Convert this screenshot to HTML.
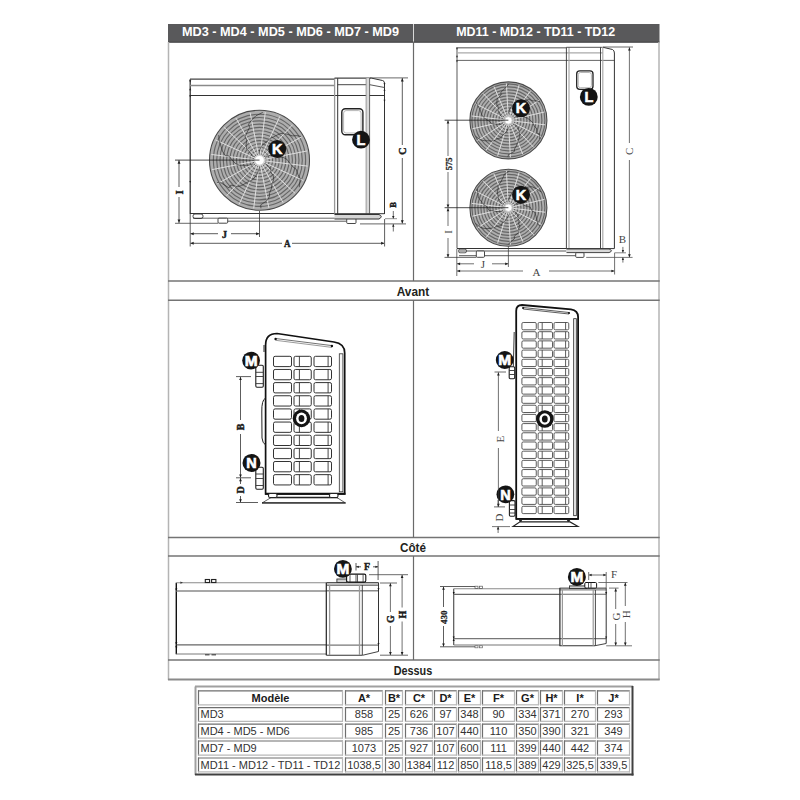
<!DOCTYPE html>
<html><head><meta charset="utf-8"><style>
html,body{margin:0;padding:0;background:#fff;width:800px;height:800px;overflow:hidden}
svg{display:block}
</style></head><body>
<svg width="800" height="800" viewBox="0 0 800 800">
<rect x="168" y="24" width="491.5" height="18.6" fill="#59595b" stroke="none" stroke-width="1" rx="0" />
<line x1="168" y1="42.1" x2="659.5" y2="42.1" stroke="#454547" stroke-width="1" />
<line x1="413.5" y1="24" x2="413.5" y2="41.6" stroke="#d8d8d8" stroke-width="1" />
<text x="290.5" y="36.4" font-family="Liberation Sans" font-size="12.5" font-weight="bold" fill="#ffffff" text-anchor="middle" textLength="217" lengthAdjust="spacingAndGlyphs" >MD3 - MD4 - MD5 - MD6 - MD7 - MD9</text>
<text x="535.7" y="36.4" font-family="Liberation Sans" font-size="12.5" font-weight="bold" fill="#ffffff" text-anchor="middle" textLength="159" lengthAdjust="spacingAndGlyphs" >MD11 - MD12 - TD11 - TD12</text>
<line x1="168.5" y1="42" x2="168.5" y2="680" stroke="#b4b4b4" stroke-width="1.5" />
<line x1="659" y1="42" x2="659" y2="680" stroke="#b4b4b4" stroke-width="1.5" />
<line x1="168" y1="281" x2="659.7" y2="281" stroke="#747474" stroke-width="1.5" />
<line x1="168" y1="300.2" x2="659.7" y2="300.2" stroke="#747474" stroke-width="1.5" />
<line x1="168" y1="537.6" x2="659.7" y2="537.6" stroke="#747474" stroke-width="1.5" />
<line x1="168" y1="556" x2="659.7" y2="556" stroke="#747474" stroke-width="1.5" />
<line x1="168" y1="660" x2="659.7" y2="660" stroke="#747474" stroke-width="1.5" />
<line x1="168" y1="679.6" x2="659.7" y2="679.6" stroke="#8a8a8a" stroke-width="2" />
<line x1="413.5" y1="42" x2="413.5" y2="281" stroke="#6a6a6a" stroke-width="1.2" />
<line x1="413.5" y1="300.2" x2="413.5" y2="537.6" stroke="#6a6a6a" stroke-width="1.2" />
<line x1="413.5" y1="556" x2="413.5" y2="660" stroke="#6a6a6a" stroke-width="1.2" />
<text x="413" y="295.5" font-family="Liberation Sans" font-size="12" font-weight="bold" fill="#231f20" text-anchor="middle" textLength="32.5" lengthAdjust="spacingAndGlyphs" >Avant</text>
<text x="413" y="552" font-family="Liberation Sans" font-size="12" font-weight="bold" fill="#231f20" text-anchor="middle" textLength="26" lengthAdjust="spacingAndGlyphs" >Côté</text>
<text x="413" y="674.5" font-family="Liberation Sans" font-size="12" font-weight="bold" fill="#231f20" text-anchor="middle" textLength="38.5" lengthAdjust="spacingAndGlyphs" >Dessus</text>
<g>
<line x1="195" y1="686.5" x2="633" y2="686.5" stroke="#a0a0a0" stroke-width="2" />
<line x1="195.5" y1="686.5" x2="195.5" y2="775" stroke="#a0a0a0" stroke-width="2" />
<line x1="195" y1="774.5" x2="633.5" y2="774.5" stroke="#404040" stroke-width="2" />
<line x1="632.5" y1="686" x2="632.5" y2="775.5" stroke="#404040" stroke-width="2" />
<line x1="198" y1="690.8" x2="343" y2="690.8" stroke="#6e6e6e" stroke-width="1.2" />
<line x1="198.5" y1="690.3" x2="198.5" y2="705.3" stroke="#6e6e6e" stroke-width="1.2" />
<line x1="198" y1="704.8" x2="343" y2="704.8" stroke="#b8b8b8" stroke-width="1.2" />
<line x1="342.5" y1="690.3" x2="342.5" y2="705.3" stroke="#b8b8b8" stroke-width="1.2" />
<text x="270.5" y="701.5" font-family="Liberation Sans" font-size="11" font-weight="bold" fill="#1a1a1a" text-anchor="middle" >Modèle</text>
<line x1="345" y1="690.8" x2="383" y2="690.8" stroke="#6e6e6e" stroke-width="1.2" />
<line x1="345.5" y1="690.3" x2="345.5" y2="705.3" stroke="#6e6e6e" stroke-width="1.2" />
<line x1="345" y1="704.8" x2="383" y2="704.8" stroke="#b8b8b8" stroke-width="1.2" />
<line x1="382.5" y1="690.3" x2="382.5" y2="705.3" stroke="#b8b8b8" stroke-width="1.2" />
<text x="364.0" y="701.5" font-family="Liberation Sans" font-size="11" font-weight="bold" fill="#1a1a1a" text-anchor="middle" >A*</text>
<line x1="385" y1="690.8" x2="403" y2="690.8" stroke="#6e6e6e" stroke-width="1.2" />
<line x1="385.5" y1="690.3" x2="385.5" y2="705.3" stroke="#6e6e6e" stroke-width="1.2" />
<line x1="385" y1="704.8" x2="403" y2="704.8" stroke="#b8b8b8" stroke-width="1.2" />
<line x1="402.5" y1="690.3" x2="402.5" y2="705.3" stroke="#b8b8b8" stroke-width="1.2" />
<text x="394.0" y="701.5" font-family="Liberation Sans" font-size="11" font-weight="bold" fill="#1a1a1a" text-anchor="middle" >B*</text>
<line x1="405" y1="690.8" x2="433" y2="690.8" stroke="#6e6e6e" stroke-width="1.2" />
<line x1="405.5" y1="690.3" x2="405.5" y2="705.3" stroke="#6e6e6e" stroke-width="1.2" />
<line x1="405" y1="704.8" x2="433" y2="704.8" stroke="#b8b8b8" stroke-width="1.2" />
<line x1="432.5" y1="690.3" x2="432.5" y2="705.3" stroke="#b8b8b8" stroke-width="1.2" />
<text x="419.0" y="701.5" font-family="Liberation Sans" font-size="11" font-weight="bold" fill="#1a1a1a" text-anchor="middle" >C*</text>
<line x1="434" y1="690.8" x2="457" y2="690.8" stroke="#6e6e6e" stroke-width="1.2" />
<line x1="434.5" y1="690.3" x2="434.5" y2="705.3" stroke="#6e6e6e" stroke-width="1.2" />
<line x1="434" y1="704.8" x2="457" y2="704.8" stroke="#b8b8b8" stroke-width="1.2" />
<line x1="456.5" y1="690.3" x2="456.5" y2="705.3" stroke="#b8b8b8" stroke-width="1.2" />
<text x="445.5" y="701.5" font-family="Liberation Sans" font-size="11" font-weight="bold" fill="#1a1a1a" text-anchor="middle" >D*</text>
<line x1="458" y1="690.8" x2="481" y2="690.8" stroke="#6e6e6e" stroke-width="1.2" />
<line x1="458.5" y1="690.3" x2="458.5" y2="705.3" stroke="#6e6e6e" stroke-width="1.2" />
<line x1="458" y1="704.8" x2="481" y2="704.8" stroke="#b8b8b8" stroke-width="1.2" />
<line x1="480.5" y1="690.3" x2="480.5" y2="705.3" stroke="#b8b8b8" stroke-width="1.2" />
<text x="469.5" y="701.5" font-family="Liberation Sans" font-size="11" font-weight="bold" fill="#1a1a1a" text-anchor="middle" >E*</text>
<line x1="482" y1="690.8" x2="515" y2="690.8" stroke="#6e6e6e" stroke-width="1.2" />
<line x1="482.5" y1="690.3" x2="482.5" y2="705.3" stroke="#6e6e6e" stroke-width="1.2" />
<line x1="482" y1="704.8" x2="515" y2="704.8" stroke="#b8b8b8" stroke-width="1.2" />
<line x1="514.5" y1="690.3" x2="514.5" y2="705.3" stroke="#b8b8b8" stroke-width="1.2" />
<text x="498.5" y="701.5" font-family="Liberation Sans" font-size="11" font-weight="bold" fill="#1a1a1a" text-anchor="middle" >F*</text>
<line x1="516" y1="690.8" x2="539" y2="690.8" stroke="#6e6e6e" stroke-width="1.2" />
<line x1="516.5" y1="690.3" x2="516.5" y2="705.3" stroke="#6e6e6e" stroke-width="1.2" />
<line x1="516" y1="704.8" x2="539" y2="704.8" stroke="#b8b8b8" stroke-width="1.2" />
<line x1="538.5" y1="690.3" x2="538.5" y2="705.3" stroke="#b8b8b8" stroke-width="1.2" />
<text x="527.5" y="701.5" font-family="Liberation Sans" font-size="11" font-weight="bold" fill="#1a1a1a" text-anchor="middle" >G*</text>
<line x1="540" y1="690.8" x2="563" y2="690.8" stroke="#6e6e6e" stroke-width="1.2" />
<line x1="540.5" y1="690.3" x2="540.5" y2="705.3" stroke="#6e6e6e" stroke-width="1.2" />
<line x1="540" y1="704.8" x2="563" y2="704.8" stroke="#b8b8b8" stroke-width="1.2" />
<line x1="562.5" y1="690.3" x2="562.5" y2="705.3" stroke="#b8b8b8" stroke-width="1.2" />
<text x="551.5" y="701.5" font-family="Liberation Sans" font-size="11" font-weight="bold" fill="#1a1a1a" text-anchor="middle" >H*</text>
<line x1="564" y1="690.8" x2="596" y2="690.8" stroke="#6e6e6e" stroke-width="1.2" />
<line x1="564.5" y1="690.3" x2="564.5" y2="705.3" stroke="#6e6e6e" stroke-width="1.2" />
<line x1="564" y1="704.8" x2="596" y2="704.8" stroke="#b8b8b8" stroke-width="1.2" />
<line x1="595.5" y1="690.3" x2="595.5" y2="705.3" stroke="#b8b8b8" stroke-width="1.2" />
<text x="580.0" y="701.5" font-family="Liberation Sans" font-size="11" font-weight="bold" fill="#1a1a1a" text-anchor="middle" >I*</text>
<line x1="597" y1="690.8" x2="630" y2="690.8" stroke="#6e6e6e" stroke-width="1.2" />
<line x1="597.5" y1="690.3" x2="597.5" y2="705.3" stroke="#6e6e6e" stroke-width="1.2" />
<line x1="597" y1="704.8" x2="630" y2="704.8" stroke="#b8b8b8" stroke-width="1.2" />
<line x1="629.5" y1="690.3" x2="629.5" y2="705.3" stroke="#b8b8b8" stroke-width="1.2" />
<text x="613.5" y="701.5" font-family="Liberation Sans" font-size="11" font-weight="bold" fill="#1a1a1a" text-anchor="middle" >J*</text>
<line x1="198" y1="707.6" x2="343" y2="707.6" stroke="#6e6e6e" stroke-width="1.2" />
<line x1="198.5" y1="707.1" x2="198.5" y2="721.8" stroke="#6e6e6e" stroke-width="1.2" />
<line x1="198" y1="721.3" x2="343" y2="721.3" stroke="#b8b8b8" stroke-width="1.2" />
<line x1="342.5" y1="707.1" x2="342.5" y2="721.8" stroke="#b8b8b8" stroke-width="1.2" />
<text x="200.5" y="718.0" font-family="Liberation Sans" font-size="11" font-weight="normal" fill="#333" text-anchor="start" >MD3</text>
<line x1="345" y1="707.6" x2="383" y2="707.6" stroke="#6e6e6e" stroke-width="1.2" />
<line x1="345.5" y1="707.1" x2="345.5" y2="721.8" stroke="#6e6e6e" stroke-width="1.2" />
<line x1="345" y1="721.3" x2="383" y2="721.3" stroke="#b8b8b8" stroke-width="1.2" />
<line x1="382.5" y1="707.1" x2="382.5" y2="721.8" stroke="#b8b8b8" stroke-width="1.2" />
<text x="364.0" y="718.0" font-family="Liberation Sans" font-size="11" font-weight="normal" fill="#333" text-anchor="middle" >858</text>
<line x1="385" y1="707.6" x2="403" y2="707.6" stroke="#6e6e6e" stroke-width="1.2" />
<line x1="385.5" y1="707.1" x2="385.5" y2="721.8" stroke="#6e6e6e" stroke-width="1.2" />
<line x1="385" y1="721.3" x2="403" y2="721.3" stroke="#b8b8b8" stroke-width="1.2" />
<line x1="402.5" y1="707.1" x2="402.5" y2="721.8" stroke="#b8b8b8" stroke-width="1.2" />
<text x="394.0" y="718.0" font-family="Liberation Sans" font-size="11" font-weight="normal" fill="#333" text-anchor="middle" >25</text>
<line x1="405" y1="707.6" x2="433" y2="707.6" stroke="#6e6e6e" stroke-width="1.2" />
<line x1="405.5" y1="707.1" x2="405.5" y2="721.8" stroke="#6e6e6e" stroke-width="1.2" />
<line x1="405" y1="721.3" x2="433" y2="721.3" stroke="#b8b8b8" stroke-width="1.2" />
<line x1="432.5" y1="707.1" x2="432.5" y2="721.8" stroke="#b8b8b8" stroke-width="1.2" />
<text x="419.0" y="718.0" font-family="Liberation Sans" font-size="11" font-weight="normal" fill="#333" text-anchor="middle" >626</text>
<line x1="434" y1="707.6" x2="457" y2="707.6" stroke="#6e6e6e" stroke-width="1.2" />
<line x1="434.5" y1="707.1" x2="434.5" y2="721.8" stroke="#6e6e6e" stroke-width="1.2" />
<line x1="434" y1="721.3" x2="457" y2="721.3" stroke="#b8b8b8" stroke-width="1.2" />
<line x1="456.5" y1="707.1" x2="456.5" y2="721.8" stroke="#b8b8b8" stroke-width="1.2" />
<text x="445.5" y="718.0" font-family="Liberation Sans" font-size="11" font-weight="normal" fill="#333" text-anchor="middle" >97</text>
<line x1="458" y1="707.6" x2="481" y2="707.6" stroke="#6e6e6e" stroke-width="1.2" />
<line x1="458.5" y1="707.1" x2="458.5" y2="721.8" stroke="#6e6e6e" stroke-width="1.2" />
<line x1="458" y1="721.3" x2="481" y2="721.3" stroke="#b8b8b8" stroke-width="1.2" />
<line x1="480.5" y1="707.1" x2="480.5" y2="721.8" stroke="#b8b8b8" stroke-width="1.2" />
<text x="469.5" y="718.0" font-family="Liberation Sans" font-size="11" font-weight="normal" fill="#333" text-anchor="middle" >348</text>
<line x1="482" y1="707.6" x2="515" y2="707.6" stroke="#6e6e6e" stroke-width="1.2" />
<line x1="482.5" y1="707.1" x2="482.5" y2="721.8" stroke="#6e6e6e" stroke-width="1.2" />
<line x1="482" y1="721.3" x2="515" y2="721.3" stroke="#b8b8b8" stroke-width="1.2" />
<line x1="514.5" y1="707.1" x2="514.5" y2="721.8" stroke="#b8b8b8" stroke-width="1.2" />
<text x="498.5" y="718.0" font-family="Liberation Sans" font-size="11" font-weight="normal" fill="#333" text-anchor="middle" >90</text>
<line x1="516" y1="707.6" x2="539" y2="707.6" stroke="#6e6e6e" stroke-width="1.2" />
<line x1="516.5" y1="707.1" x2="516.5" y2="721.8" stroke="#6e6e6e" stroke-width="1.2" />
<line x1="516" y1="721.3" x2="539" y2="721.3" stroke="#b8b8b8" stroke-width="1.2" />
<line x1="538.5" y1="707.1" x2="538.5" y2="721.8" stroke="#b8b8b8" stroke-width="1.2" />
<text x="527.5" y="718.0" font-family="Liberation Sans" font-size="11" font-weight="normal" fill="#333" text-anchor="middle" >334</text>
<line x1="540" y1="707.6" x2="563" y2="707.6" stroke="#6e6e6e" stroke-width="1.2" />
<line x1="540.5" y1="707.1" x2="540.5" y2="721.8" stroke="#6e6e6e" stroke-width="1.2" />
<line x1="540" y1="721.3" x2="563" y2="721.3" stroke="#b8b8b8" stroke-width="1.2" />
<line x1="562.5" y1="707.1" x2="562.5" y2="721.8" stroke="#b8b8b8" stroke-width="1.2" />
<text x="551.5" y="718.0" font-family="Liberation Sans" font-size="11" font-weight="normal" fill="#333" text-anchor="middle" >371</text>
<line x1="564" y1="707.6" x2="596" y2="707.6" stroke="#6e6e6e" stroke-width="1.2" />
<line x1="564.5" y1="707.1" x2="564.5" y2="721.8" stroke="#6e6e6e" stroke-width="1.2" />
<line x1="564" y1="721.3" x2="596" y2="721.3" stroke="#b8b8b8" stroke-width="1.2" />
<line x1="595.5" y1="707.1" x2="595.5" y2="721.8" stroke="#b8b8b8" stroke-width="1.2" />
<text x="580.0" y="718.0" font-family="Liberation Sans" font-size="11" font-weight="normal" fill="#333" text-anchor="middle" >270</text>
<line x1="597" y1="707.6" x2="630" y2="707.6" stroke="#6e6e6e" stroke-width="1.2" />
<line x1="597.5" y1="707.1" x2="597.5" y2="721.8" stroke="#6e6e6e" stroke-width="1.2" />
<line x1="597" y1="721.3" x2="630" y2="721.3" stroke="#b8b8b8" stroke-width="1.2" />
<line x1="629.5" y1="707.1" x2="629.5" y2="721.8" stroke="#b8b8b8" stroke-width="1.2" />
<text x="613.5" y="718.0" font-family="Liberation Sans" font-size="11" font-weight="normal" fill="#333" text-anchor="middle" >293</text>
<line x1="198" y1="724.2" x2="343" y2="724.2" stroke="#6e6e6e" stroke-width="1.2" />
<line x1="198.5" y1="723.7" x2="198.5" y2="738.6" stroke="#6e6e6e" stroke-width="1.2" />
<line x1="198" y1="738.1" x2="343" y2="738.1" stroke="#b8b8b8" stroke-width="1.2" />
<line x1="342.5" y1="723.7" x2="342.5" y2="738.6" stroke="#b8b8b8" stroke-width="1.2" />
<text x="200.5" y="734.8000000000001" font-family="Liberation Sans" font-size="11" font-weight="normal" fill="#333" text-anchor="start" >MD4 - MD5 - MD6</text>
<line x1="345" y1="724.2" x2="383" y2="724.2" stroke="#6e6e6e" stroke-width="1.2" />
<line x1="345.5" y1="723.7" x2="345.5" y2="738.6" stroke="#6e6e6e" stroke-width="1.2" />
<line x1="345" y1="738.1" x2="383" y2="738.1" stroke="#b8b8b8" stroke-width="1.2" />
<line x1="382.5" y1="723.7" x2="382.5" y2="738.6" stroke="#b8b8b8" stroke-width="1.2" />
<text x="364.0" y="734.8000000000001" font-family="Liberation Sans" font-size="11" font-weight="normal" fill="#333" text-anchor="middle" >985</text>
<line x1="385" y1="724.2" x2="403" y2="724.2" stroke="#6e6e6e" stroke-width="1.2" />
<line x1="385.5" y1="723.7" x2="385.5" y2="738.6" stroke="#6e6e6e" stroke-width="1.2" />
<line x1="385" y1="738.1" x2="403" y2="738.1" stroke="#b8b8b8" stroke-width="1.2" />
<line x1="402.5" y1="723.7" x2="402.5" y2="738.6" stroke="#b8b8b8" stroke-width="1.2" />
<text x="394.0" y="734.8000000000001" font-family="Liberation Sans" font-size="11" font-weight="normal" fill="#333" text-anchor="middle" >25</text>
<line x1="405" y1="724.2" x2="433" y2="724.2" stroke="#6e6e6e" stroke-width="1.2" />
<line x1="405.5" y1="723.7" x2="405.5" y2="738.6" stroke="#6e6e6e" stroke-width="1.2" />
<line x1="405" y1="738.1" x2="433" y2="738.1" stroke="#b8b8b8" stroke-width="1.2" />
<line x1="432.5" y1="723.7" x2="432.5" y2="738.6" stroke="#b8b8b8" stroke-width="1.2" />
<text x="419.0" y="734.8000000000001" font-family="Liberation Sans" font-size="11" font-weight="normal" fill="#333" text-anchor="middle" >736</text>
<line x1="434" y1="724.2" x2="457" y2="724.2" stroke="#6e6e6e" stroke-width="1.2" />
<line x1="434.5" y1="723.7" x2="434.5" y2="738.6" stroke="#6e6e6e" stroke-width="1.2" />
<line x1="434" y1="738.1" x2="457" y2="738.1" stroke="#b8b8b8" stroke-width="1.2" />
<line x1="456.5" y1="723.7" x2="456.5" y2="738.6" stroke="#b8b8b8" stroke-width="1.2" />
<text x="445.5" y="734.8000000000001" font-family="Liberation Sans" font-size="11" font-weight="normal" fill="#333" text-anchor="middle" >107</text>
<line x1="458" y1="724.2" x2="481" y2="724.2" stroke="#6e6e6e" stroke-width="1.2" />
<line x1="458.5" y1="723.7" x2="458.5" y2="738.6" stroke="#6e6e6e" stroke-width="1.2" />
<line x1="458" y1="738.1" x2="481" y2="738.1" stroke="#b8b8b8" stroke-width="1.2" />
<line x1="480.5" y1="723.7" x2="480.5" y2="738.6" stroke="#b8b8b8" stroke-width="1.2" />
<text x="469.5" y="734.8000000000001" font-family="Liberation Sans" font-size="11" font-weight="normal" fill="#333" text-anchor="middle" >440</text>
<line x1="482" y1="724.2" x2="515" y2="724.2" stroke="#6e6e6e" stroke-width="1.2" />
<line x1="482.5" y1="723.7" x2="482.5" y2="738.6" stroke="#6e6e6e" stroke-width="1.2" />
<line x1="482" y1="738.1" x2="515" y2="738.1" stroke="#b8b8b8" stroke-width="1.2" />
<line x1="514.5" y1="723.7" x2="514.5" y2="738.6" stroke="#b8b8b8" stroke-width="1.2" />
<text x="498.5" y="734.8000000000001" font-family="Liberation Sans" font-size="11" font-weight="normal" fill="#333" text-anchor="middle" >110</text>
<line x1="516" y1="724.2" x2="539" y2="724.2" stroke="#6e6e6e" stroke-width="1.2" />
<line x1="516.5" y1="723.7" x2="516.5" y2="738.6" stroke="#6e6e6e" stroke-width="1.2" />
<line x1="516" y1="738.1" x2="539" y2="738.1" stroke="#b8b8b8" stroke-width="1.2" />
<line x1="538.5" y1="723.7" x2="538.5" y2="738.6" stroke="#b8b8b8" stroke-width="1.2" />
<text x="527.5" y="734.8000000000001" font-family="Liberation Sans" font-size="11" font-weight="normal" fill="#333" text-anchor="middle" >350</text>
<line x1="540" y1="724.2" x2="563" y2="724.2" stroke="#6e6e6e" stroke-width="1.2" />
<line x1="540.5" y1="723.7" x2="540.5" y2="738.6" stroke="#6e6e6e" stroke-width="1.2" />
<line x1="540" y1="738.1" x2="563" y2="738.1" stroke="#b8b8b8" stroke-width="1.2" />
<line x1="562.5" y1="723.7" x2="562.5" y2="738.6" stroke="#b8b8b8" stroke-width="1.2" />
<text x="551.5" y="734.8000000000001" font-family="Liberation Sans" font-size="11" font-weight="normal" fill="#333" text-anchor="middle" >390</text>
<line x1="564" y1="724.2" x2="596" y2="724.2" stroke="#6e6e6e" stroke-width="1.2" />
<line x1="564.5" y1="723.7" x2="564.5" y2="738.6" stroke="#6e6e6e" stroke-width="1.2" />
<line x1="564" y1="738.1" x2="596" y2="738.1" stroke="#b8b8b8" stroke-width="1.2" />
<line x1="595.5" y1="723.7" x2="595.5" y2="738.6" stroke="#b8b8b8" stroke-width="1.2" />
<text x="580.0" y="734.8000000000001" font-family="Liberation Sans" font-size="11" font-weight="normal" fill="#333" text-anchor="middle" >321</text>
<line x1="597" y1="724.2" x2="630" y2="724.2" stroke="#6e6e6e" stroke-width="1.2" />
<line x1="597.5" y1="723.7" x2="597.5" y2="738.6" stroke="#6e6e6e" stroke-width="1.2" />
<line x1="597" y1="738.1" x2="630" y2="738.1" stroke="#b8b8b8" stroke-width="1.2" />
<line x1="629.5" y1="723.7" x2="629.5" y2="738.6" stroke="#b8b8b8" stroke-width="1.2" />
<text x="613.5" y="734.8000000000001" font-family="Liberation Sans" font-size="11" font-weight="normal" fill="#333" text-anchor="middle" >349</text>
<line x1="198" y1="741.0" x2="343" y2="741.0" stroke="#6e6e6e" stroke-width="1.2" />
<line x1="198.5" y1="740.5" x2="198.5" y2="755.6" stroke="#6e6e6e" stroke-width="1.2" />
<line x1="198" y1="755.1" x2="343" y2="755.1" stroke="#b8b8b8" stroke-width="1.2" />
<line x1="342.5" y1="740.5" x2="342.5" y2="755.6" stroke="#b8b8b8" stroke-width="1.2" />
<text x="200.5" y="751.8000000000001" font-family="Liberation Sans" font-size="11" font-weight="normal" fill="#333" text-anchor="start" >MD7 - MD9</text>
<line x1="345" y1="741.0" x2="383" y2="741.0" stroke="#6e6e6e" stroke-width="1.2" />
<line x1="345.5" y1="740.5" x2="345.5" y2="755.6" stroke="#6e6e6e" stroke-width="1.2" />
<line x1="345" y1="755.1" x2="383" y2="755.1" stroke="#b8b8b8" stroke-width="1.2" />
<line x1="382.5" y1="740.5" x2="382.5" y2="755.6" stroke="#b8b8b8" stroke-width="1.2" />
<text x="364.0" y="751.8000000000001" font-family="Liberation Sans" font-size="11" font-weight="normal" fill="#333" text-anchor="middle" >1073</text>
<line x1="385" y1="741.0" x2="403" y2="741.0" stroke="#6e6e6e" stroke-width="1.2" />
<line x1="385.5" y1="740.5" x2="385.5" y2="755.6" stroke="#6e6e6e" stroke-width="1.2" />
<line x1="385" y1="755.1" x2="403" y2="755.1" stroke="#b8b8b8" stroke-width="1.2" />
<line x1="402.5" y1="740.5" x2="402.5" y2="755.6" stroke="#b8b8b8" stroke-width="1.2" />
<text x="394.0" y="751.8000000000001" font-family="Liberation Sans" font-size="11" font-weight="normal" fill="#333" text-anchor="middle" >25</text>
<line x1="405" y1="741.0" x2="433" y2="741.0" stroke="#6e6e6e" stroke-width="1.2" />
<line x1="405.5" y1="740.5" x2="405.5" y2="755.6" stroke="#6e6e6e" stroke-width="1.2" />
<line x1="405" y1="755.1" x2="433" y2="755.1" stroke="#b8b8b8" stroke-width="1.2" />
<line x1="432.5" y1="740.5" x2="432.5" y2="755.6" stroke="#b8b8b8" stroke-width="1.2" />
<text x="419.0" y="751.8000000000001" font-family="Liberation Sans" font-size="11" font-weight="normal" fill="#333" text-anchor="middle" >927</text>
<line x1="434" y1="741.0" x2="457" y2="741.0" stroke="#6e6e6e" stroke-width="1.2" />
<line x1="434.5" y1="740.5" x2="434.5" y2="755.6" stroke="#6e6e6e" stroke-width="1.2" />
<line x1="434" y1="755.1" x2="457" y2="755.1" stroke="#b8b8b8" stroke-width="1.2" />
<line x1="456.5" y1="740.5" x2="456.5" y2="755.6" stroke="#b8b8b8" stroke-width="1.2" />
<text x="445.5" y="751.8000000000001" font-family="Liberation Sans" font-size="11" font-weight="normal" fill="#333" text-anchor="middle" >107</text>
<line x1="458" y1="741.0" x2="481" y2="741.0" stroke="#6e6e6e" stroke-width="1.2" />
<line x1="458.5" y1="740.5" x2="458.5" y2="755.6" stroke="#6e6e6e" stroke-width="1.2" />
<line x1="458" y1="755.1" x2="481" y2="755.1" stroke="#b8b8b8" stroke-width="1.2" />
<line x1="480.5" y1="740.5" x2="480.5" y2="755.6" stroke="#b8b8b8" stroke-width="1.2" />
<text x="469.5" y="751.8000000000001" font-family="Liberation Sans" font-size="11" font-weight="normal" fill="#333" text-anchor="middle" >600</text>
<line x1="482" y1="741.0" x2="515" y2="741.0" stroke="#6e6e6e" stroke-width="1.2" />
<line x1="482.5" y1="740.5" x2="482.5" y2="755.6" stroke="#6e6e6e" stroke-width="1.2" />
<line x1="482" y1="755.1" x2="515" y2="755.1" stroke="#b8b8b8" stroke-width="1.2" />
<line x1="514.5" y1="740.5" x2="514.5" y2="755.6" stroke="#b8b8b8" stroke-width="1.2" />
<text x="498.5" y="751.8000000000001" font-family="Liberation Sans" font-size="11" font-weight="normal" fill="#333" text-anchor="middle" >111</text>
<line x1="516" y1="741.0" x2="539" y2="741.0" stroke="#6e6e6e" stroke-width="1.2" />
<line x1="516.5" y1="740.5" x2="516.5" y2="755.6" stroke="#6e6e6e" stroke-width="1.2" />
<line x1="516" y1="755.1" x2="539" y2="755.1" stroke="#b8b8b8" stroke-width="1.2" />
<line x1="538.5" y1="740.5" x2="538.5" y2="755.6" stroke="#b8b8b8" stroke-width="1.2" />
<text x="527.5" y="751.8000000000001" font-family="Liberation Sans" font-size="11" font-weight="normal" fill="#333" text-anchor="middle" >399</text>
<line x1="540" y1="741.0" x2="563" y2="741.0" stroke="#6e6e6e" stroke-width="1.2" />
<line x1="540.5" y1="740.5" x2="540.5" y2="755.6" stroke="#6e6e6e" stroke-width="1.2" />
<line x1="540" y1="755.1" x2="563" y2="755.1" stroke="#b8b8b8" stroke-width="1.2" />
<line x1="562.5" y1="740.5" x2="562.5" y2="755.6" stroke="#b8b8b8" stroke-width="1.2" />
<text x="551.5" y="751.8000000000001" font-family="Liberation Sans" font-size="11" font-weight="normal" fill="#333" text-anchor="middle" >440</text>
<line x1="564" y1="741.0" x2="596" y2="741.0" stroke="#6e6e6e" stroke-width="1.2" />
<line x1="564.5" y1="740.5" x2="564.5" y2="755.6" stroke="#6e6e6e" stroke-width="1.2" />
<line x1="564" y1="755.1" x2="596" y2="755.1" stroke="#b8b8b8" stroke-width="1.2" />
<line x1="595.5" y1="740.5" x2="595.5" y2="755.6" stroke="#b8b8b8" stroke-width="1.2" />
<text x="580.0" y="751.8000000000001" font-family="Liberation Sans" font-size="11" font-weight="normal" fill="#333" text-anchor="middle" >442</text>
<line x1="597" y1="741.0" x2="630" y2="741.0" stroke="#6e6e6e" stroke-width="1.2" />
<line x1="597.5" y1="740.5" x2="597.5" y2="755.6" stroke="#6e6e6e" stroke-width="1.2" />
<line x1="597" y1="755.1" x2="630" y2="755.1" stroke="#b8b8b8" stroke-width="1.2" />
<line x1="629.5" y1="740.5" x2="629.5" y2="755.6" stroke="#b8b8b8" stroke-width="1.2" />
<text x="613.5" y="751.8000000000001" font-family="Liberation Sans" font-size="11" font-weight="normal" fill="#333" text-anchor="middle" >374</text>
<line x1="198" y1="758.0" x2="343" y2="758.0" stroke="#6e6e6e" stroke-width="1.2" />
<line x1="198.5" y1="757.5" x2="198.5" y2="772.3" stroke="#6e6e6e" stroke-width="1.2" />
<line x1="198" y1="771.8" x2="343" y2="771.8" stroke="#b8b8b8" stroke-width="1.2" />
<line x1="342.5" y1="757.5" x2="342.5" y2="772.3" stroke="#b8b8b8" stroke-width="1.2" />
<text x="200.5" y="768.5" font-family="Liberation Sans" font-size="11" font-weight="normal" fill="#333" text-anchor="start" >MD11 - MD12 - TD11 - TD12</text>
<line x1="345" y1="758.0" x2="383" y2="758.0" stroke="#6e6e6e" stroke-width="1.2" />
<line x1="345.5" y1="757.5" x2="345.5" y2="772.3" stroke="#6e6e6e" stroke-width="1.2" />
<line x1="345" y1="771.8" x2="383" y2="771.8" stroke="#b8b8b8" stroke-width="1.2" />
<line x1="382.5" y1="757.5" x2="382.5" y2="772.3" stroke="#b8b8b8" stroke-width="1.2" />
<text x="364.0" y="768.5" font-family="Liberation Sans" font-size="11" font-weight="normal" fill="#333" text-anchor="middle" >1038,5</text>
<line x1="385" y1="758.0" x2="403" y2="758.0" stroke="#6e6e6e" stroke-width="1.2" />
<line x1="385.5" y1="757.5" x2="385.5" y2="772.3" stroke="#6e6e6e" stroke-width="1.2" />
<line x1="385" y1="771.8" x2="403" y2="771.8" stroke="#b8b8b8" stroke-width="1.2" />
<line x1="402.5" y1="757.5" x2="402.5" y2="772.3" stroke="#b8b8b8" stroke-width="1.2" />
<text x="394.0" y="768.5" font-family="Liberation Sans" font-size="11" font-weight="normal" fill="#333" text-anchor="middle" >30</text>
<line x1="405" y1="758.0" x2="433" y2="758.0" stroke="#6e6e6e" stroke-width="1.2" />
<line x1="405.5" y1="757.5" x2="405.5" y2="772.3" stroke="#6e6e6e" stroke-width="1.2" />
<line x1="405" y1="771.8" x2="433" y2="771.8" stroke="#b8b8b8" stroke-width="1.2" />
<line x1="432.5" y1="757.5" x2="432.5" y2="772.3" stroke="#b8b8b8" stroke-width="1.2" />
<text x="419.0" y="768.5" font-family="Liberation Sans" font-size="11" font-weight="normal" fill="#333" text-anchor="middle" >1384</text>
<line x1="434" y1="758.0" x2="457" y2="758.0" stroke="#6e6e6e" stroke-width="1.2" />
<line x1="434.5" y1="757.5" x2="434.5" y2="772.3" stroke="#6e6e6e" stroke-width="1.2" />
<line x1="434" y1="771.8" x2="457" y2="771.8" stroke="#b8b8b8" stroke-width="1.2" />
<line x1="456.5" y1="757.5" x2="456.5" y2="772.3" stroke="#b8b8b8" stroke-width="1.2" />
<text x="445.5" y="768.5" font-family="Liberation Sans" font-size="11" font-weight="normal" fill="#333" text-anchor="middle" >112</text>
<line x1="458" y1="758.0" x2="481" y2="758.0" stroke="#6e6e6e" stroke-width="1.2" />
<line x1="458.5" y1="757.5" x2="458.5" y2="772.3" stroke="#6e6e6e" stroke-width="1.2" />
<line x1="458" y1="771.8" x2="481" y2="771.8" stroke="#b8b8b8" stroke-width="1.2" />
<line x1="480.5" y1="757.5" x2="480.5" y2="772.3" stroke="#b8b8b8" stroke-width="1.2" />
<text x="469.5" y="768.5" font-family="Liberation Sans" font-size="11" font-weight="normal" fill="#333" text-anchor="middle" >850</text>
<line x1="482" y1="758.0" x2="515" y2="758.0" stroke="#6e6e6e" stroke-width="1.2" />
<line x1="482.5" y1="757.5" x2="482.5" y2="772.3" stroke="#6e6e6e" stroke-width="1.2" />
<line x1="482" y1="771.8" x2="515" y2="771.8" stroke="#b8b8b8" stroke-width="1.2" />
<line x1="514.5" y1="757.5" x2="514.5" y2="772.3" stroke="#b8b8b8" stroke-width="1.2" />
<text x="498.5" y="768.5" font-family="Liberation Sans" font-size="11" font-weight="normal" fill="#333" text-anchor="middle" >118,5</text>
<line x1="516" y1="758.0" x2="539" y2="758.0" stroke="#6e6e6e" stroke-width="1.2" />
<line x1="516.5" y1="757.5" x2="516.5" y2="772.3" stroke="#6e6e6e" stroke-width="1.2" />
<line x1="516" y1="771.8" x2="539" y2="771.8" stroke="#b8b8b8" stroke-width="1.2" />
<line x1="538.5" y1="757.5" x2="538.5" y2="772.3" stroke="#b8b8b8" stroke-width="1.2" />
<text x="527.5" y="768.5" font-family="Liberation Sans" font-size="11" font-weight="normal" fill="#333" text-anchor="middle" >389</text>
<line x1="540" y1="758.0" x2="563" y2="758.0" stroke="#6e6e6e" stroke-width="1.2" />
<line x1="540.5" y1="757.5" x2="540.5" y2="772.3" stroke="#6e6e6e" stroke-width="1.2" />
<line x1="540" y1="771.8" x2="563" y2="771.8" stroke="#b8b8b8" stroke-width="1.2" />
<line x1="562.5" y1="757.5" x2="562.5" y2="772.3" stroke="#b8b8b8" stroke-width="1.2" />
<text x="551.5" y="768.5" font-family="Liberation Sans" font-size="11" font-weight="normal" fill="#333" text-anchor="middle" >429</text>
<line x1="564" y1="758.0" x2="596" y2="758.0" stroke="#6e6e6e" stroke-width="1.2" />
<line x1="564.5" y1="757.5" x2="564.5" y2="772.3" stroke="#6e6e6e" stroke-width="1.2" />
<line x1="564" y1="771.8" x2="596" y2="771.8" stroke="#b8b8b8" stroke-width="1.2" />
<line x1="595.5" y1="757.5" x2="595.5" y2="772.3" stroke="#b8b8b8" stroke-width="1.2" />
<text x="580.0" y="768.5" font-family="Liberation Sans" font-size="11" font-weight="normal" fill="#333" text-anchor="middle" >325,5</text>
<line x1="597" y1="758.0" x2="630" y2="758.0" stroke="#6e6e6e" stroke-width="1.2" />
<line x1="597.5" y1="757.5" x2="597.5" y2="772.3" stroke="#6e6e6e" stroke-width="1.2" />
<line x1="597" y1="771.8" x2="630" y2="771.8" stroke="#b8b8b8" stroke-width="1.2" />
<line x1="629.5" y1="757.5" x2="629.5" y2="772.3" stroke="#b8b8b8" stroke-width="1.2" />
<text x="613.5" y="768.5" font-family="Liberation Sans" font-size="11" font-weight="normal" fill="#333" text-anchor="middle" >339,5</text>
</g>
<g fill="none" stroke-linecap="butt">
<line x1="190.2" y1="79.2" x2="190.2" y2="214" stroke="#333" stroke-width="1.3" />
<line x1="190" y1="79.2" x2="335" y2="79.2" stroke="#444" stroke-width="1.2" />
<line x1="190" y1="85.5" x2="334.5" y2="85.5" stroke="#8a8a8a" stroke-width="1.3" />
<line x1="190" y1="95.5" x2="384" y2="95.5" stroke="#333" stroke-width="1" />
<polygon points="190.2,82.5 189.165,80.2 191.23499999999999,80.2" fill="#222"/>
<polygon points="190.2,88 189.165,90.3 191.23499999999999,90.3" fill="#222"/>
<polygon points="190.2,97.5 189.165,95.2 191.23499999999999,95.2" fill="#222"/>
<polygon points="190.2,183 189.29999999999998,181.0 191.1,181.0" fill="#222"/>
<line x1="190" y1="213.5" x2="335" y2="213.5" stroke="#333" stroke-width="1.1" />
<line x1="193" y1="218.2" x2="335" y2="218.2" stroke="#666" stroke-width="1" />
<line x1="227.7" y1="221.2" x2="346" y2="221.2" stroke="#444" stroke-width="0.9" />
<rect x="193" y="214" width="10" height="4.5" fill="none" stroke="#333" stroke-width="0.9" rx="2" />
<rect x="218" y="218.2" width="9.7" height="5" fill="#fff" stroke="#333" stroke-width="0.9" rx="1" />
<rect x="346.7" y="218.5" width="9.3" height="5" fill="#fff" stroke="#333" stroke-width="0.9" rx="1" />
<line x1="334.6" y1="78" x2="334.6" y2="214" stroke="#999" stroke-width="1.3" />
<line x1="337.7" y1="78" x2="337.7" y2="214" stroke="#333" stroke-width="1" />
<line x1="334.5" y1="78.1" x2="371.4" y2="78.1" stroke="#444" stroke-width="1.1" />
<path d="M371.4,78.1 L382.5,80.5 Q384.5,81 384.5,83 L384.5,214" stroke="#333" stroke-width="1" fill="none" />
<line x1="337.7" y1="84.7" x2="369" y2="84.7" stroke="#333" stroke-width="0.9" />
<line x1="369.6" y1="84.7" x2="384.5" y2="87.5" stroke="#444" stroke-width="0.9" />
<rect x="366.1" y="78.1" width="3.5" height="135.6" fill="#d9d9d9" stroke="none" stroke-width="1" rx="0" />
<line x1="366.1" y1="78.1" x2="366.1" y2="213.7" stroke="#888" stroke-width="0.8" />
<line x1="369.6" y1="78.1" x2="369.6" y2="213.7" stroke="#444" stroke-width="0.8" />
<polygon points="384.5,85.5 383.51,83.3 385.49,83.3" fill="#222"/>
<polygon points="384.5,88.5 383.51,90.7 385.49,90.7" fill="#222"/>
<polygon points="384.5,102 383.51,99.8 385.49,99.8" fill="#222"/>
<line x1="334.5" y1="213.7" x2="384.5" y2="213.7" stroke="#333" stroke-width="1" />
<path d="M334.5,214.5 L379,214.5 Q383.5,216.5 379,219 L334.5,219" stroke="#333" stroke-width="1" fill="#d5d5d5" />
<rect x="341.8" y="108.8" width="21.1" height="26" fill="#fff" stroke="#222" stroke-width="1.4" rx="3.5" />
<rect x="343.6" y="110.6" width="17.5" height="22.4" fill="none" stroke="#999" stroke-width="0.7" rx="2.5" />
<g>
<circle cx="259.5" cy="160.3" r="50" fill="#adadad" stroke="#4a4a4a" stroke-width="1.1"/>
<circle cx="259.5" cy="160.3" r="6.50" fill="none" stroke="#666" stroke-width="1.15"/>
<circle cx="259.5" cy="160.3" r="9.80" fill="none" stroke="#666" stroke-width="1.15"/>
<circle cx="259.5" cy="160.3" r="13.10" fill="none" stroke="#666" stroke-width="1.15"/>
<circle cx="259.5" cy="160.3" r="16.40" fill="none" stroke="#666" stroke-width="1.15"/>
<circle cx="259.5" cy="160.3" r="19.70" fill="none" stroke="#666" stroke-width="1.15"/>
<circle cx="259.5" cy="160.3" r="23.00" fill="none" stroke="#666" stroke-width="1.15"/>
<circle cx="259.5" cy="160.3" r="26.30" fill="none" stroke="#666" stroke-width="1.15"/>
<circle cx="259.5" cy="160.3" r="29.60" fill="none" stroke="#666" stroke-width="1.15"/>
<circle cx="259.5" cy="160.3" r="32.90" fill="none" stroke="#666" stroke-width="1.15"/>
<circle cx="259.5" cy="160.3" r="36.20" fill="none" stroke="#666" stroke-width="1.15"/>
<circle cx="259.5" cy="160.3" r="39.50" fill="none" stroke="#666" stroke-width="1.15"/>
<circle cx="259.5" cy="160.3" r="42.80" fill="none" stroke="#666" stroke-width="1.15"/>
<circle cx="259.5" cy="160.3" r="46.10" fill="none" stroke="#666" stroke-width="1.15"/>
<line x1="264.46" y1="160.90" x2="307.65" y2="166.11" stroke="#e2e2e2" stroke-width="0.95"/>
<line x1="264.04" y1="162.40" x2="303.50" y2="180.70" stroke="#e2e2e2" stroke-width="0.95"/>
<line x1="263.16" y1="163.70" x2="295.04" y2="193.30" stroke="#e2e2e2" stroke-width="0.95"/>
<line x1="261.93" y1="164.67" x2="283.11" y2="202.67" stroke="#e2e2e2" stroke-width="0.95"/>
<line x1="260.46" y1="165.21" x2="268.86" y2="207.89" stroke="#e2e2e2" stroke-width="0.95"/>
<line x1="258.90" y1="165.26" x2="253.69" y2="208.45" stroke="#e2e2e2" stroke-width="0.95"/>
<line x1="257.40" y1="164.84" x2="239.10" y2="204.30" stroke="#e2e2e2" stroke-width="0.95"/>
<line x1="256.10" y1="163.96" x2="226.50" y2="195.84" stroke="#e2e2e2" stroke-width="0.95"/>
<line x1="255.13" y1="162.73" x2="217.13" y2="183.91" stroke="#e2e2e2" stroke-width="0.95"/>
<line x1="254.59" y1="161.26" x2="211.91" y2="169.66" stroke="#e2e2e2" stroke-width="0.95"/>
<line x1="254.54" y1="159.70" x2="211.35" y2="154.49" stroke="#e2e2e2" stroke-width="0.95"/>
<line x1="254.96" y1="158.20" x2="215.50" y2="139.90" stroke="#e2e2e2" stroke-width="0.95"/>
<line x1="255.84" y1="156.90" x2="223.96" y2="127.30" stroke="#e2e2e2" stroke-width="0.95"/>
<line x1="257.07" y1="155.93" x2="235.89" y2="117.93" stroke="#e2e2e2" stroke-width="0.95"/>
<line x1="258.54" y1="155.39" x2="250.14" y2="112.71" stroke="#e2e2e2" stroke-width="0.95"/>
<line x1="260.10" y1="155.34" x2="265.31" y2="112.15" stroke="#e2e2e2" stroke-width="0.95"/>
<line x1="261.60" y1="155.76" x2="279.90" y2="116.30" stroke="#e2e2e2" stroke-width="0.95"/>
<line x1="262.90" y1="156.64" x2="292.50" y2="124.76" stroke="#e2e2e2" stroke-width="0.95"/>
<line x1="263.87" y1="157.87" x2="301.87" y2="136.69" stroke="#e2e2e2" stroke-width="0.95"/>
<line x1="264.41" y1="159.34" x2="307.09" y2="150.94" stroke="#e2e2e2" stroke-width="0.95"/>
<polyline points="265.66,163.63 268.02,166.29 270.61,168.54 271.13,173.04 273.34,175.65 273.66,179.78 271.84,184.88 271.33,188.87 269.56,193.13 269.34,196.74 266.81,200.81 260.71,204.87 260.93,208.28" fill="none" stroke="#222" stroke-width="1" stroke-opacity="0.6"/>
<polyline points="259.60,167.30 258.37,170.66 257.15,173.93 255.02,176.96 252.60,179.78 248.46,181.70 244.95,183.64 241.65,185.54 237.49,186.65 230.96,185.00 228.97,187.91 220.99,182.77 217.00,182.60" fill="none" stroke="#222" stroke-width="1" stroke-opacity="0.6"/>
<polyline points="253.42,163.78 250.15,164.88 246.61,165.32 242.99,165.29 239.41,165.15 235.67,163.76 232.00,159.85 228.89,155.97 225.47,155.76 222.73,151.75 220.91,145.98 219.26,141.11 218.70,135.02" fill="none" stroke="#222" stroke-width="1" stroke-opacity="0.6"/>
<polyline points="253.35,156.96 251.15,154.08 249.09,151.19 246.56,148.90 246.07,144.59 246.79,139.85 244.94,136.97 247.34,131.87 249.64,127.41 248.51,124.19 251.85,119.85 255.81,115.87 262.78,112.41" fill="none" stroke="#222" stroke-width="1" stroke-opacity="0.6"/>
<polyline points="259.02,153.32 259.77,149.89 261.27,146.58 263.74,143.58 267.59,141.28 269.73,138.50 273.79,136.81 277.26,134.99 280.81,133.38 286.71,134.13 292.67,135.92 296.59,135.57 301.21,136.54" fill="none" stroke="#222" stroke-width="1" stroke-opacity="0.6"/>
<polyline points="265.49,156.68 268.81,155.63 272.29,155.04 276.23,156.10 279.91,157.02 283.42,157.49 286.98,159.36 290.23,163.69 293.16,167.06 296.18,169.23 298.05,174.75 300.19,178.52 299.26,187.19" fill="none" stroke="#222" stroke-width="1" stroke-opacity="0.6"/>
<circle cx="259.5" cy="160.3" r="4.85" fill="#fff" stroke="#d0d0d0" stroke-width="1"/>
</g>
<circle cx="277.2" cy="149" r="9" fill="#141414"/>
<text x="0" y="0" font-family="Liberation Sans" font-size="13.8" font-weight="bold" fill="#fff" stroke="#fff" stroke-width="0.55" text-anchor="middle" transform="translate(277.2,153.968) scale(1.05,1)">K</text>
<circle cx="361" cy="139.7" r="8.9" fill="#141414"/>
<text x="0" y="0" font-family="Liberation Sans" font-size="13.8" font-weight="bold" fill="#fff" stroke="#fff" stroke-width="0.55" text-anchor="middle" transform="translate(361,144.66799999999998) scale(1.05,1)">L</text>
<line x1="175" y1="160.1" x2="259.5" y2="160.1" stroke="#1e1e1e" stroke-width="0.8" />
<line x1="179" y1="160" x2="179" y2="187" stroke="#333" stroke-width="0.8" />
<line x1="179" y1="197" x2="179" y2="223" stroke="#333" stroke-width="0.8" />
<polygon points="179,160.5 177.56,163.7 180.44,163.7" fill="#1e1e1e"/>
<polygon points="179,222.8 177.56,219.60000000000002 180.44,219.60000000000002" fill="#1e1e1e"/>
<text x="0" y="0" font-family="Liberation Serif" font-size="10" font-weight="bold" fill="#1e1e1e" stroke="#1e1e1e" stroke-width="0.45" text-anchor="middle" dominant-baseline="central" transform="translate(179.3,192.2) rotate(-90) scale(1.0,1)">I</text>
<line x1="175" y1="223.3" x2="218" y2="223.3" stroke="#444" stroke-width="0.8" />
<line x1="190.2" y1="214" x2="190.2" y2="246.5" stroke="#333" stroke-width="0.8" />
<line x1="259.5" y1="211" x2="259.5" y2="237" stroke="#333" stroke-width="0.8" />
<line x1="190.5" y1="233.7" x2="218" y2="233.7" stroke="#333" stroke-width="0.8" />
<line x1="231" y1="233.7" x2="259" y2="233.7" stroke="#333" stroke-width="0.8" />
<polygon points="190.5,233.7 193.7,232.26 193.7,235.14" fill="#1e1e1e"/>
<polygon points="259.3,233.7 256.1,232.26 256.1,235.14" fill="#1e1e1e"/>
<text x="0" y="0" font-family="Liberation Serif" font-size="10" font-weight="bold" fill="#1e1e1e" stroke="#1e1e1e" stroke-width="0.45" text-anchor="middle" dominant-baseline="central" transform="translate(224.5,234.5) scale(1.0,1)">J</text>
<line x1="190.5" y1="243.3" x2="282" y2="243.3" stroke="#333" stroke-width="0.8" />
<line x1="292" y1="243.3" x2="384" y2="243.3" stroke="#333" stroke-width="0.8" />
<polygon points="190.5,243.3 193.7,241.86 193.7,244.74" fill="#1e1e1e"/>
<polygon points="384.3,243.3 381.1,241.86 381.1,244.74" fill="#1e1e1e"/>
<text x="0" y="0" font-family="Liberation Serif" font-size="10" font-weight="bold" fill="#1e1e1e" stroke="#1e1e1e" stroke-width="0.45" text-anchor="middle" dominant-baseline="central" transform="translate(287.3,243.8) scale(0.9,1)">A</text>
<line x1="384.6" y1="219" x2="384.6" y2="246.5" stroke="#333" stroke-width="0.8" />
<line x1="370" y1="77.9" x2="408" y2="77.9" stroke="#444" stroke-width="0.8" />
<line x1="402.3" y1="78" x2="402.3" y2="145" stroke="#333" stroke-width="0.8" />
<line x1="402.3" y1="158" x2="402.3" y2="223.5" stroke="#333" stroke-width="0.8" />
<polygon points="402.3,78.3 400.86,81.5 403.74,81.5" fill="#1e1e1e"/>
<polygon points="402.3,223.5 400.86,220.3 403.74,220.3" fill="#1e1e1e"/>
<text x="0" y="0" font-family="Liberation Serif" font-size="10" font-weight="bold" fill="#1e1e1e" stroke="#1e1e1e" stroke-width="0.45" text-anchor="middle" dominant-baseline="central" transform="translate(402.3,151.2) rotate(-90) scale(1.0,1)">C</text>
<line x1="360" y1="223.9" x2="406" y2="223.9" stroke="#555" stroke-width="0.9" />
<line x1="385" y1="218.7" x2="397" y2="218.7" stroke="#777" stroke-width="0.8" />
<text x="0" y="0" font-family="Liberation Serif" font-size="8.5" font-weight="bold" fill="#1e1e1e" stroke="#1e1e1e" stroke-width="0.45" text-anchor="middle" dominant-baseline="central" transform="translate(393.3,205) rotate(-90) scale(1.0,1)">B</text>
<line x1="393.3" y1="211" x2="393.3" y2="218.5" stroke="#333" stroke-width="0.7" />
<polygon points="393.3,218.5 392.13,215.9 394.47,215.9" fill="#1e1e1e"/>
<line x1="393.3" y1="224" x2="393.3" y2="231.5" stroke="#333" stroke-width="0.7" />
<polygon points="393.3,224.2 392.13,226.79999999999998 394.47,226.79999999999998" fill="#1e1e1e"/>
</g>
<g fill="none">
<line x1="457" y1="47.5" x2="457" y2="248.6" stroke="#888" stroke-width="1.4" />
<line x1="456.5" y1="47.7" x2="566.5" y2="47.7" stroke="#8a8a8a" stroke-width="1.4" />
<line x1="457" y1="52.8" x2="603" y2="52.8" stroke="#aaa" stroke-width="1.3" />
<line x1="457" y1="60.4" x2="614.4" y2="60.4" stroke="#555" stroke-width="0.9" />
<polygon points="457,50 456.01,47.8 457.99,47.8" fill="#333"/>
<polygon points="457,55 456.01,57.2 457.99,57.2" fill="#333"/>
<polygon points="457,62.5 456.01,60.3 457.99,60.3" fill="#333"/>
<line x1="457" y1="248.5" x2="566.5" y2="248.5" stroke="#333" stroke-width="1" />
<line x1="459" y1="251" x2="566.5" y2="251" stroke="#444" stroke-width="0.9" />
<line x1="459" y1="255.6" x2="575.7" y2="255.6" stroke="#777" stroke-width="1.1" />
<rect x="458.5" y="249.2" width="8" height="3.6" fill="none" stroke="#333" stroke-width="0.8" rx="1.5" />
<rect x="476.3" y="251" width="8.2" height="6.3" fill="#fff" stroke="#333" stroke-width="0.9" rx="1" />
<rect x="575.7" y="252.6" width="8.3" height="4.8" fill="#fff" stroke="#333" stroke-width="0.9" rx="1" />
<line x1="566.4" y1="47.3" x2="566.4" y2="248.6" stroke="#333" stroke-width="0.9" />
<line x1="569" y1="47.3" x2="569" y2="248.6" stroke="#aaa" stroke-width="1.2" />
<line x1="566.4" y1="47.3" x2="603" y2="47.3" stroke="#444" stroke-width="0.9" />
<path d="M603,47.3 L612.5,49.5 Q614.4,50.5 614.4,53 L614.4,248.6" stroke="#333" stroke-width="1" fill="none" />
<line x1="600.5" y1="47.3" x2="600.5" y2="248.6" stroke="#333" stroke-width="0.9" />
<line x1="602.8" y1="47.3" x2="602.8" y2="248.6" stroke="#aaa" stroke-width="1.2" />
<line x1="566.4" y1="248.6" x2="614.4" y2="248.6" stroke="#333" stroke-width="1" />
<path d="M566.5,249 L609,249 Q614,250.8 609,252.6 L566.5,252.6" stroke="#333" stroke-width="0.9" fill="#d8d8d8" />
<rect x="576.7" y="70.9" width="16.3" height="18.4" fill="#fff" stroke="#222" stroke-width="1.3" rx="3" />
<rect x="578.3" y="72.5" width="13.1" height="15.2" fill="none" stroke="#999" stroke-width="0.7" rx="2.2" />
<g>
<circle cx="508.4" cy="120.4" r="38.5" fill="#adadad" stroke="#4a4a4a" stroke-width="1.1"/>
<circle cx="508.4" cy="120.4" r="6.50" fill="none" stroke="#666" stroke-width="1.15"/>
<circle cx="508.4" cy="120.4" r="9.50" fill="none" stroke="#666" stroke-width="1.15"/>
<circle cx="508.4" cy="120.4" r="12.50" fill="none" stroke="#666" stroke-width="1.15"/>
<circle cx="508.4" cy="120.4" r="15.50" fill="none" stroke="#666" stroke-width="1.15"/>
<circle cx="508.4" cy="120.4" r="18.50" fill="none" stroke="#666" stroke-width="1.15"/>
<circle cx="508.4" cy="120.4" r="21.50" fill="none" stroke="#666" stroke-width="1.15"/>
<circle cx="508.4" cy="120.4" r="24.50" fill="none" stroke="#666" stroke-width="1.15"/>
<circle cx="508.4" cy="120.4" r="27.50" fill="none" stroke="#666" stroke-width="1.15"/>
<circle cx="508.4" cy="120.4" r="30.50" fill="none" stroke="#666" stroke-width="1.15"/>
<circle cx="508.4" cy="120.4" r="33.50" fill="none" stroke="#666" stroke-width="1.15"/>
<circle cx="508.4" cy="120.4" r="36.50" fill="none" stroke="#666" stroke-width="1.15"/>
<line x1="513.36" y1="121.00" x2="545.13" y2="124.83" stroke="#e2e2e2" stroke-width="0.95"/>
<line x1="512.86" y1="122.66" x2="541.40" y2="137.13" stroke="#e2e2e2" stroke-width="0.95"/>
<line x1="511.82" y1="124.05" x2="533.69" y2="147.41" stroke="#e2e2e2" stroke-width="0.95"/>
<line x1="510.36" y1="125.00" x2="522.93" y2="154.43" stroke="#e2e2e2" stroke-width="0.95"/>
<line x1="508.67" y1="125.39" x2="510.42" y2="157.34" stroke="#e2e2e2" stroke-width="0.95"/>
<line x1="506.95" y1="125.18" x2="497.66" y2="155.81" stroke="#e2e2e2" stroke-width="0.95"/>
<line x1="505.40" y1="124.40" x2="486.20" y2="150.00" stroke="#e2e2e2" stroke-width="0.95"/>
<line x1="504.21" y1="123.13" x2="477.41" y2="140.62" stroke="#e2e2e2" stroke-width="0.95"/>
<line x1="503.53" y1="121.54" x2="472.37" y2="128.80" stroke="#e2e2e2" stroke-width="0.95"/>
<line x1="503.44" y1="119.80" x2="471.67" y2="115.97" stroke="#e2e2e2" stroke-width="0.95"/>
<line x1="503.94" y1="118.14" x2="475.40" y2="103.67" stroke="#e2e2e2" stroke-width="0.95"/>
<line x1="504.98" y1="116.75" x2="483.11" y2="93.39" stroke="#e2e2e2" stroke-width="0.95"/>
<line x1="506.44" y1="115.80" x2="493.87" y2="86.37" stroke="#e2e2e2" stroke-width="0.95"/>
<line x1="508.13" y1="115.41" x2="506.38" y2="83.46" stroke="#e2e2e2" stroke-width="0.95"/>
<line x1="509.85" y1="115.62" x2="519.14" y2="84.99" stroke="#e2e2e2" stroke-width="0.95"/>
<line x1="511.40" y1="116.40" x2="530.60" y2="90.80" stroke="#e2e2e2" stroke-width="0.95"/>
<line x1="512.59" y1="117.67" x2="539.39" y2="100.18" stroke="#e2e2e2" stroke-width="0.95"/>
<line x1="513.27" y1="119.26" x2="544.43" y2="112.00" stroke="#e2e2e2" stroke-width="0.95"/>
<polyline points="514.40,124.00 516.23,125.71 517.92,127.57 518.71,130.42 519.78,132.81 519.91,135.88 518.60,139.61 517.47,142.84 516.34,145.86 514.55,148.87 514.43,151.40 508.69,154.44 507.83,156.90" fill="none" stroke="#222" stroke-width="1" stroke-opacity="0.6"/>
<polyline points="508.47,127.40 507.61,129.83 506.27,132.12 504.01,134.09 502.05,135.99 500.59,138.04 496.76,138.77 495.01,140.57 491.47,141.00 487.60,140.79 484.23,140.73 480.46,139.84 475.58,136.38" fill="none" stroke="#222" stroke-width="1" stroke-opacity="0.6"/>
<polyline points="502.23,123.71 499.79,124.33 497.13,124.26 494.45,123.89 491.91,123.79 489.12,121.06 486.65,120.03 484.35,117.67 482.15,115.68 480.67,111.49 479.31,108.10 477.73,105.64 476.48,102.70" fill="none" stroke="#222" stroke-width="1" stroke-opacity="0.6"/>
<polyline points="502.25,117.06 500.34,115.45 499.37,112.62 498.07,110.40 498.29,106.94 496.78,105.00 496.85,101.97 497.16,98.96 501.05,94.77 500.86,92.27 504.33,89.08 506.86,86.39 508.67,83.90" fill="none" stroke="#222" stroke-width="1" stroke-opacity="0.6"/>
<polyline points="508.51,113.40 509.00,110.96 509.74,108.56 511.95,106.47 514.75,104.81 516.53,102.91 519.31,101.58 521.92,100.32 526.33,100.66 528.52,99.34 533.24,100.90 536.18,100.72 539.86,101.90" fill="none" stroke="#222" stroke-width="1" stroke-opacity="0.6"/>
<polyline points="514.58,117.10 517.05,116.59 519.71,116.64 522.12,116.10 524.96,117.37 527.57,118.21 530.15,120.33 532.54,122.21 534.37,126.48 536.49,128.09 537.18,133.40 539.63,133.95 539.78,139.05" fill="none" stroke="#222" stroke-width="1" stroke-opacity="0.6"/>
<circle cx="508.4" cy="120.4" r="3.73" fill="#fff" stroke="#d0d0d0" stroke-width="1"/>
</g>
<g>
<circle cx="508.4" cy="207.8" r="38.5" fill="#adadad" stroke="#4a4a4a" stroke-width="1.1"/>
<circle cx="508.4" cy="207.8" r="6.50" fill="none" stroke="#666" stroke-width="1.15"/>
<circle cx="508.4" cy="207.8" r="9.50" fill="none" stroke="#666" stroke-width="1.15"/>
<circle cx="508.4" cy="207.8" r="12.50" fill="none" stroke="#666" stroke-width="1.15"/>
<circle cx="508.4" cy="207.8" r="15.50" fill="none" stroke="#666" stroke-width="1.15"/>
<circle cx="508.4" cy="207.8" r="18.50" fill="none" stroke="#666" stroke-width="1.15"/>
<circle cx="508.4" cy="207.8" r="21.50" fill="none" stroke="#666" stroke-width="1.15"/>
<circle cx="508.4" cy="207.8" r="24.50" fill="none" stroke="#666" stroke-width="1.15"/>
<circle cx="508.4" cy="207.8" r="27.50" fill="none" stroke="#666" stroke-width="1.15"/>
<circle cx="508.4" cy="207.8" r="30.50" fill="none" stroke="#666" stroke-width="1.15"/>
<circle cx="508.4" cy="207.8" r="33.50" fill="none" stroke="#666" stroke-width="1.15"/>
<circle cx="508.4" cy="207.8" r="36.50" fill="none" stroke="#666" stroke-width="1.15"/>
<line x1="513.36" y1="208.40" x2="545.13" y2="212.23" stroke="#e2e2e2" stroke-width="0.95"/>
<line x1="512.86" y1="210.06" x2="541.40" y2="224.53" stroke="#e2e2e2" stroke-width="0.95"/>
<line x1="511.82" y1="211.45" x2="533.69" y2="234.81" stroke="#e2e2e2" stroke-width="0.95"/>
<line x1="510.36" y1="212.40" x2="522.93" y2="241.83" stroke="#e2e2e2" stroke-width="0.95"/>
<line x1="508.67" y1="212.79" x2="510.42" y2="244.74" stroke="#e2e2e2" stroke-width="0.95"/>
<line x1="506.95" y1="212.58" x2="497.66" y2="243.21" stroke="#e2e2e2" stroke-width="0.95"/>
<line x1="505.40" y1="211.80" x2="486.20" y2="237.40" stroke="#e2e2e2" stroke-width="0.95"/>
<line x1="504.21" y1="210.53" x2="477.41" y2="228.02" stroke="#e2e2e2" stroke-width="0.95"/>
<line x1="503.53" y1="208.94" x2="472.37" y2="216.20" stroke="#e2e2e2" stroke-width="0.95"/>
<line x1="503.44" y1="207.20" x2="471.67" y2="203.37" stroke="#e2e2e2" stroke-width="0.95"/>
<line x1="503.94" y1="205.54" x2="475.40" y2="191.07" stroke="#e2e2e2" stroke-width="0.95"/>
<line x1="504.98" y1="204.15" x2="483.11" y2="180.79" stroke="#e2e2e2" stroke-width="0.95"/>
<line x1="506.44" y1="203.20" x2="493.87" y2="173.77" stroke="#e2e2e2" stroke-width="0.95"/>
<line x1="508.13" y1="202.81" x2="506.38" y2="170.86" stroke="#e2e2e2" stroke-width="0.95"/>
<line x1="509.85" y1="203.02" x2="519.14" y2="172.39" stroke="#e2e2e2" stroke-width="0.95"/>
<line x1="511.40" y1="203.80" x2="530.60" y2="178.20" stroke="#e2e2e2" stroke-width="0.95"/>
<line x1="512.59" y1="205.07" x2="539.39" y2="187.58" stroke="#e2e2e2" stroke-width="0.95"/>
<line x1="513.27" y1="206.66" x2="544.43" y2="199.40" stroke="#e2e2e2" stroke-width="0.95"/>
<polyline points="514.55,211.14 516.23,213.10 517.84,215.07 518.08,218.42 519.08,220.81 518.68,224.12 520.07,226.15 517.92,230.06 518.59,232.44 514.23,236.34 514.45,238.80 510.66,241.77 508.47,244.30" fill="none" stroke="#222" stroke-width="1" stroke-opacity="0.6"/>
<polyline points="508.58,214.80 508.05,217.25 505.84,219.44 504.44,221.62 501.89,223.32 501.29,225.73 496.75,226.17 494.38,227.54 491.24,228.21 488.02,228.61 484.59,228.55 480.61,227.47 475.38,223.35" fill="none" stroke="#222" stroke-width="1" stroke-opacity="0.6"/>
<polyline points="502.62,211.74 499.75,211.62 497.07,211.51 494.47,211.37 491.83,210.77 489.31,210.61 486.69,206.52 484.33,205.18 482.21,202.76 480.37,199.89 478.39,197.96 477.82,192.85 477.24,188.79" fill="none" stroke="#222" stroke-width="1" stroke-opacity="0.6"/>
<polyline points="502.39,204.21 500.39,202.77 499.15,200.28 498.29,197.58 497.82,194.71 497.20,192.09 498.21,188.58 497.93,185.97 500.72,182.26 502.11,179.36 503.56,176.59 504.37,174.00 509.45,171.32" fill="none" stroke="#222" stroke-width="1" stroke-opacity="0.6"/>
<polyline points="508.18,200.80 508.87,198.35 510.18,196.02 511.54,193.77 513.54,191.77 517.20,190.63 518.49,188.53 522.00,187.77 526.02,187.78 528.77,186.98 531.88,186.67 536.77,188.99 541.31,192.01" fill="none" stroke="#222" stroke-width="1" stroke-opacity="0.6"/>
<polyline points="514.41,204.22 517.06,204.01 519.54,203.56 522.24,203.90 525.11,205.77 527.64,206.39 530.14,207.16 532.35,211.31 534.72,212.08 536.14,216.68 537.12,220.94 538.09,224.46 540.03,226.02" fill="none" stroke="#222" stroke-width="1" stroke-opacity="0.6"/>
<circle cx="508.4" cy="207.8" r="3.73" fill="#fff" stroke="#d0d0d0" stroke-width="1"/>
</g>
<circle cx="521" cy="108.3" r="9" fill="#141414"/>
<text x="0" y="0" font-family="Liberation Sans" font-size="13.8" font-weight="bold" fill="#fff" stroke="#fff" stroke-width="0.55" text-anchor="middle" transform="translate(521,113.268) scale(1.05,1)">K</text>
<circle cx="521" cy="194.7" r="9" fill="#141414"/>
<text x="0" y="0" font-family="Liberation Sans" font-size="13.8" font-weight="bold" fill="#fff" stroke="#fff" stroke-width="0.55" text-anchor="middle" transform="translate(521,199.66799999999998) scale(1.05,1)">K</text>
<circle cx="588.8" cy="96.9" r="8.9" fill="#141414"/>
<text x="0" y="0" font-family="Liberation Sans" font-size="13.8" font-weight="bold" fill="#fff" stroke="#fff" stroke-width="0.55" text-anchor="middle" transform="translate(588.8,101.86800000000001) scale(1.05,1)">L</text>
<line x1="444.6" y1="120.2" x2="508.4" y2="120.2" stroke="#1e1e1e" stroke-width="0.8" />
<line x1="444.6" y1="207.7" x2="508.4" y2="207.7" stroke="#1e1e1e" stroke-width="0.8" />
<line x1="448" y1="120.5" x2="448" y2="156" stroke="#333" stroke-width="0.7" />
<line x1="448" y1="172" x2="448" y2="207.5" stroke="#333" stroke-width="0.7" />
<polygon points="448,120.5 446.65,123.5 449.35,123.5" fill="#1e1e1e"/>
<polygon points="448,207.4 446.65,204.4 449.35,204.4" fill="#1e1e1e"/>
<text x="0" y="0" font-family="Liberation Serif" font-size="8.5" font-weight="bold" fill="#1e1e1e" stroke="#1e1e1e" stroke-width="0.3" text-anchor="middle" dominant-baseline="central" transform="translate(448.6,163.8) rotate(-90) scale(1.0,1)">575</text>
<line x1="448" y1="208" x2="448" y2="226" stroke="#333" stroke-width="0.7" />
<line x1="448" y1="238" x2="448" y2="257.2" stroke="#333" stroke-width="0.7" />
<polygon points="448,208.2 446.65,211.2 449.35,211.2" fill="#1e1e1e"/>
<polygon points="448,257.2 446.65,254.2 449.35,254.2" fill="#1e1e1e"/>
<text x="0" y="0" font-family="Liberation Serif" font-size="11" font-weight="normal" fill="#444" text-anchor="middle" dominant-baseline="central" transform="translate(447.6,232) rotate(-90) scale(1.0,1)">I</text>
<line x1="444.5" y1="257.4" x2="476.3" y2="257.4" stroke="#444" stroke-width="0.8" />
<line x1="456.8" y1="249" x2="456.8" y2="276" stroke="#333" stroke-width="0.7" />
<line x1="508.4" y1="246.5" x2="508.4" y2="267" stroke="#333" stroke-width="0.7" />
<line x1="457" y1="263.8" x2="474" y2="263.8" stroke="#333" stroke-width="0.7" />
<line x1="492" y1="263.8" x2="508.2" y2="263.8" stroke="#333" stroke-width="0.7" />
<polygon points="457.1,263.8 460.1,262.45 460.1,265.15000000000003" fill="#1e1e1e"/>
<polygon points="508.2,263.8 505.2,262.45 505.2,265.15000000000003" fill="#1e1e1e"/>
<text x="0" y="0" font-family="Liberation Serif" font-size="11" font-weight="normal" fill="#444" text-anchor="middle" dominant-baseline="central" transform="translate(482.8,264.3) scale(1.0,1)">J</text>
<line x1="457" y1="271" x2="523" y2="271" stroke="#333" stroke-width="0.7" />
<line x1="549" y1="271" x2="614.4" y2="271" stroke="#333" stroke-width="0.7" />
<polygon points="457.1,271 460.1,269.65 460.1,272.35" fill="#1e1e1e"/>
<polygon points="614.4,271 611.4,269.65 611.4,272.35" fill="#1e1e1e"/>
<text x="0" y="0" font-family="Liberation Serif" font-size="11" font-weight="normal" fill="#444" text-anchor="middle" dominant-baseline="central" transform="translate(536.5,271.5) scale(1.0,1)">A</text>
<line x1="614.6" y1="252.8" x2="614.6" y2="274.5" stroke="#333" stroke-width="0.7" />
<line x1="603" y1="47" x2="633" y2="47" stroke="#444" stroke-width="0.8" />
<line x1="629.4" y1="47.3" x2="629.4" y2="143" stroke="#333" stroke-width="0.7" />
<line x1="629.4" y1="160" x2="629.4" y2="257.2" stroke="#333" stroke-width="0.7" />
<polygon points="629.4,47.4 628.05,50.4 630.75,50.4" fill="#1e1e1e"/>
<polygon points="629.4,257.2 628.05,254.2 630.75,254.2" fill="#1e1e1e"/>
<text x="0" y="0" font-family="Liberation Serif" font-size="11" font-weight="normal" fill="#444" text-anchor="middle" dominant-baseline="central" transform="translate(629.4,151.4) rotate(-90) scale(1.0,1)">C</text>
<line x1="614.6" y1="252.8" x2="626" y2="252.8" stroke="#666" stroke-width="0.8" />
<line x1="586.2" y1="257.4" x2="632.6" y2="257.4" stroke="#555" stroke-width="0.8" />
<text x="0" y="0" font-family="Liberation Serif" font-size="11" font-weight="normal" fill="#444" text-anchor="middle" dominant-baseline="central" transform="translate(622.5,239) scale(1.0,1)">B</text>
<line x1="622.9" y1="246.9" x2="622.9" y2="252.5" stroke="#333" stroke-width="0.7" />
<polygon points="622.9,252.5 621.73,249.9 624.0699999999999,249.9" fill="#1e1e1e"/>
<line x1="622.9" y1="257.5" x2="622.9" y2="262.6" stroke="#333" stroke-width="0.7" />
<polygon points="622.9,257.5 621.73,260.1 624.0699999999999,260.1" fill="#1e1e1e"/>
</g>
<g fill="none">
<path d="M265.6,493.8 L265.6,345 Q265.6,333.5 277,333.5 L334,342 Q344.7,343.5 344.7,353 L344.7,493.8 Z" stroke="#111" stroke-width="1.7" fill="none" />
<line x1="275.6" y1="338.5" x2="331.9" y2="345.6" stroke="#333" stroke-width="0.7" />
<line x1="275.6" y1="340.3" x2="331.9" y2="347.4" stroke="#555" stroke-width="0.6" />
<circle cx="275.6" cy="339" r="1.2" fill="#111"/><circle cx="331.9" cy="346" r="1.2" fill="#111"/>
<rect x="339.3" y="353.8" width="3.6" height="138" fill="#f6f6f6" stroke="#333" stroke-width="0.8" rx="0" />
<rect x="273.5" y="356.3" width="18.0" height="10.3" fill="none" stroke="#333" stroke-width="1.0" rx="1.6" />
<rect x="294" y="356.3" width="17.25" height="10.3" fill="none" stroke="#333" stroke-width="1.0" rx="1.6" />
<rect x="314" y="356.3" width="17.5" height="10.3" fill="none" stroke="#333" stroke-width="1.0" rx="1.6" />
<line x1="299.4" y1="356.3" x2="299.4" y2="366.6" stroke="#333" stroke-width="0.9" />
<line x1="328.1" y1="356.3" x2="328.1" y2="366.6" stroke="#333" stroke-width="0.9" />
<rect x="273.5" y="369.45" width="18.0" height="10.3" fill="none" stroke="#333" stroke-width="1.0" rx="1.6" />
<rect x="294" y="369.45" width="17.25" height="10.3" fill="none" stroke="#333" stroke-width="1.0" rx="1.6" />
<rect x="314" y="369.45" width="17.5" height="10.3" fill="none" stroke="#333" stroke-width="1.0" rx="1.6" />
<line x1="299.4" y1="369.45" x2="299.4" y2="379.75" stroke="#333" stroke-width="0.9" />
<line x1="328.1" y1="369.45" x2="328.1" y2="379.75" stroke="#333" stroke-width="0.9" />
<rect x="273.5" y="382.6" width="18.0" height="10.3" fill="none" stroke="#333" stroke-width="1.0" rx="1.6" />
<rect x="294" y="382.6" width="17.25" height="10.3" fill="none" stroke="#333" stroke-width="1.0" rx="1.6" />
<rect x="314" y="382.6" width="17.5" height="10.3" fill="none" stroke="#333" stroke-width="1.0" rx="1.6" />
<line x1="299.4" y1="382.6" x2="299.4" y2="392.90000000000003" stroke="#333" stroke-width="0.9" />
<line x1="328.1" y1="382.6" x2="328.1" y2="392.90000000000003" stroke="#333" stroke-width="0.9" />
<rect x="273.5" y="395.75" width="18.0" height="10.3" fill="none" stroke="#333" stroke-width="1.0" rx="1.6" />
<rect x="294" y="395.75" width="17.25" height="10.3" fill="none" stroke="#333" stroke-width="1.0" rx="1.6" />
<rect x="314" y="395.75" width="17.5" height="10.3" fill="none" stroke="#333" stroke-width="1.0" rx="1.6" />
<line x1="299.4" y1="395.75" x2="299.4" y2="406.05" stroke="#333" stroke-width="0.9" />
<line x1="328.1" y1="395.75" x2="328.1" y2="406.05" stroke="#333" stroke-width="0.9" />
<rect x="273.5" y="408.90000000000003" width="18.0" height="10.3" fill="none" stroke="#333" stroke-width="1.0" rx="1.6" />
<rect x="294" y="408.90000000000003" width="17.25" height="10.3" fill="none" stroke="#333" stroke-width="1.0" rx="1.6" />
<rect x="314" y="408.90000000000003" width="17.5" height="10.3" fill="none" stroke="#333" stroke-width="1.0" rx="1.6" />
<line x1="299.4" y1="408.90000000000003" x2="299.4" y2="419.20000000000005" stroke="#333" stroke-width="0.9" />
<line x1="328.1" y1="408.90000000000003" x2="328.1" y2="419.20000000000005" stroke="#333" stroke-width="0.9" />
<rect x="273.5" y="422.05" width="18.0" height="10.3" fill="none" stroke="#333" stroke-width="1.0" rx="1.6" />
<rect x="294" y="422.05" width="17.25" height="10.3" fill="none" stroke="#333" stroke-width="1.0" rx="1.6" />
<rect x="314" y="422.05" width="17.5" height="10.3" fill="none" stroke="#333" stroke-width="1.0" rx="1.6" />
<line x1="299.4" y1="422.05" x2="299.4" y2="432.35" stroke="#333" stroke-width="0.9" />
<line x1="328.1" y1="422.05" x2="328.1" y2="432.35" stroke="#333" stroke-width="0.9" />
<rect x="273.5" y="435.20000000000005" width="18.0" height="10.3" fill="none" stroke="#333" stroke-width="1.0" rx="1.6" />
<rect x="294" y="435.20000000000005" width="17.25" height="10.3" fill="none" stroke="#333" stroke-width="1.0" rx="1.6" />
<rect x="314" y="435.20000000000005" width="17.5" height="10.3" fill="none" stroke="#333" stroke-width="1.0" rx="1.6" />
<line x1="299.4" y1="435.20000000000005" x2="299.4" y2="445.50000000000006" stroke="#333" stroke-width="0.9" />
<line x1="328.1" y1="435.20000000000005" x2="328.1" y2="445.50000000000006" stroke="#333" stroke-width="0.9" />
<rect x="273.5" y="448.35" width="18.0" height="10.3" fill="none" stroke="#333" stroke-width="1.0" rx="1.6" />
<rect x="294" y="448.35" width="17.25" height="10.3" fill="none" stroke="#333" stroke-width="1.0" rx="1.6" />
<rect x="314" y="448.35" width="17.5" height="10.3" fill="none" stroke="#333" stroke-width="1.0" rx="1.6" />
<line x1="299.4" y1="448.35" x2="299.4" y2="458.65000000000003" stroke="#333" stroke-width="0.9" />
<line x1="328.1" y1="448.35" x2="328.1" y2="458.65000000000003" stroke="#333" stroke-width="0.9" />
<rect x="273.5" y="461.5" width="18.0" height="10.3" fill="none" stroke="#333" stroke-width="1.0" rx="1.6" />
<rect x="294" y="461.5" width="17.25" height="10.3" fill="none" stroke="#333" stroke-width="1.0" rx="1.6" />
<rect x="314" y="461.5" width="17.5" height="10.3" fill="none" stroke="#333" stroke-width="1.0" rx="1.6" />
<line x1="299.4" y1="461.5" x2="299.4" y2="471.8" stroke="#333" stroke-width="0.9" />
<line x1="328.1" y1="461.5" x2="328.1" y2="471.8" stroke="#333" stroke-width="0.9" />
<rect x="273.5" y="474.65000000000003" width="18.0" height="10.3" fill="none" stroke="#333" stroke-width="1.0" rx="1.6" />
<rect x="294" y="474.65000000000003" width="17.25" height="10.3" fill="none" stroke="#333" stroke-width="1.0" rx="1.6" />
<rect x="314" y="474.65000000000003" width="17.5" height="10.3" fill="none" stroke="#333" stroke-width="1.0" rx="1.6" />
<line x1="299.4" y1="474.65000000000003" x2="299.4" y2="484.95000000000005" stroke="#333" stroke-width="0.9" />
<line x1="328.1" y1="474.65000000000003" x2="328.1" y2="484.95000000000005" stroke="#333" stroke-width="0.9" />
<path d="M265.6,398 Q261.5,400 261.8,412 L262,438 Q262.5,443 265.6,445" stroke="#222" stroke-width="1" fill="none" />
<line x1="264" y1="345" x2="264" y2="352" stroke="#222" stroke-width="1" />
<line x1="265" y1="493.8" x2="345.5" y2="493.8" stroke="#111" stroke-width="2" />
<path d="M262,503 L271,497.6 L337,497.6 L345.5,503 Z" stroke="#555" stroke-width="0.9" fill="#fff" />
<line x1="270" y1="497.6" x2="338" y2="497.6" stroke="#222" stroke-width="1.5" />
<line x1="262" y1="502.9" x2="345.5" y2="502.9" stroke="#222" stroke-width="1.3" />
<rect x="268.5" y="493.5" width="8.5" height="4" fill="#fff" stroke="#222" stroke-width="1.1" rx="1.5" />
<rect x="329.5" y="493.5" width="8.5" height="4" fill="#fff" stroke="#222" stroke-width="1.1" rx="1.5" />
<rect x="255.8" y="365.3" width="7.5" height="22.0" fill="#fff" stroke="#1e1e1e" stroke-width="1.1" rx="1.2" />
<line x1="255.8" y1="372.3" x2="263.3" y2="372.3" stroke="#333" stroke-width="0.9" />
<line x1="255.8" y1="376.5" x2="263.3" y2="376.5" stroke="#333" stroke-width="0.9" />
<line x1="255.8" y1="383.6" x2="263.3" y2="383.6" stroke="#333" stroke-width="0.9" />
<rect x="255.8" y="467.3" width="7.5" height="21.899999999999977" fill="#fff" stroke="#1e1e1e" stroke-width="1.1" rx="1.2" />
<line x1="255.8" y1="474" x2="263.3" y2="474" stroke="#333" stroke-width="0.9" />
<line x1="255.8" y1="478.5" x2="263.3" y2="478.5" stroke="#333" stroke-width="0.9" />
<line x1="255.8" y1="485.5" x2="263.3" y2="485.5" stroke="#333" stroke-width="0.9" />
<circle cx="251.1" cy="360.6" r="8.9" fill="#141414"/>
<text x="0" y="0" font-family="Liberation Sans" font-size="13.8" font-weight="bold" fill="#fff" stroke="#fff" stroke-width="0.6" text-anchor="middle" transform="translate(251.1,365.56800000000004) scale(1.12,1)">M</text>
<circle cx="251.5" cy="462.9" r="9" fill="#141414"/>
<text x="0" y="0" font-family="Liberation Sans" font-size="14.5" font-weight="bold" fill="#fff" stroke="#fff" stroke-width="0.6" text-anchor="middle" transform="translate(251.5,468.12) scale(1.0,1)">N</text>
<circle cx="301.5" cy="418.4" r="8.8" fill="#141414"/>
<ellipse cx="301.5" cy="418.4" rx="5.4" ry="5.8" fill="#fff"/>
<ellipse cx="301.5" cy="418.4" rx="2.9" ry="3.5" fill="#141414"/>
<line x1="236" y1="376.6" x2="251" y2="376.6" stroke="#333" stroke-width="0.8" />
<line x1="240.5" y1="377" x2="240.5" y2="420" stroke="#333" stroke-width="0.8" />
<line x1="240.5" y1="434" x2="240.5" y2="477.6" stroke="#333" stroke-width="0.8" />
<polygon points="240.5,377 239.15,380 241.85,380" fill="#1e1e1e"/>
<polygon points="240.5,477.5 239.15,474.5 241.85,474.5" fill="#1e1e1e"/>
<text x="0" y="0" font-family="Liberation Serif" font-size="10" font-weight="bold" fill="#1e1e1e" stroke="#1e1e1e" stroke-width="0.45" text-anchor="middle" dominant-baseline="central" transform="translate(240.8,427) rotate(-90) scale(1.0,1)">B</text>
<line x1="236" y1="477.8" x2="251" y2="477.8" stroke="#333" stroke-width="0.8" />
<line x1="240.5" y1="478" x2="240.5" y2="484" stroke="#333" stroke-width="0.8" />
<line x1="240.5" y1="496" x2="240.5" y2="502.2" stroke="#333" stroke-width="0.8" />
<polygon points="240.5,478.2 239.15,481.2 241.85,481.2" fill="#1e1e1e"/>
<polygon points="240.5,502.2 239.15,499.2 241.85,499.2" fill="#1e1e1e"/>
<text x="0" y="0" font-family="Liberation Serif" font-size="10" font-weight="bold" fill="#1e1e1e" stroke="#1e1e1e" stroke-width="0.45" text-anchor="middle" dominant-baseline="central" transform="translate(240.8,490) rotate(-90) scale(1.0,1)">D</text>
<line x1="236" y1="502.5" x2="258" y2="502.5" stroke="#333" stroke-width="0.8" />
</g>
<g fill="none">
<path d="M516.2,518.8 L516.2,311 Q516.2,305 522,305 L571,309.4 Q578.1,310.5 578.1,317 L578.1,518.8 Z" stroke="#111" stroke-width="1.8" fill="none" />
<line x1="523.1" y1="307.5" x2="569" y2="312.5" stroke="#333" stroke-width="0.8" />
<line x1="523.1" y1="309" x2="569" y2="314" stroke="#333" stroke-width="0.8" />
<circle cx="523.1" cy="308" r="1.1" fill="#111"/><circle cx="569" cy="313" r="1.1" fill="#111"/>
<rect x="573.7" y="318.7" width="2.6" height="197" fill="#f4f4f4" stroke="#222" stroke-width="0.8" rx="0" />
<rect x="521.9" y="322.5" width="14.350000000000023" height="7.3" fill="none" stroke="#4a4a4a" stroke-width="0.9" rx="1.3" />
<rect x="538.1" y="322.5" width="14.399999999999977" height="7.3" fill="none" stroke="#4a4a4a" stroke-width="0.9" rx="1.3" />
<rect x="554" y="322.5" width="14.75" height="7.3" fill="none" stroke="#4a4a4a" stroke-width="0.9" rx="1.3" />
<line x1="542.2" y1="322.5" x2="542.2" y2="329.8" stroke="#4a4a4a" stroke-width="0.9" />
<line x1="565.6" y1="322.5" x2="565.6" y2="329.8" stroke="#4a4a4a" stroke-width="0.9" />
<rect x="521.9" y="331.69" width="14.350000000000023" height="7.3" fill="none" stroke="#4a4a4a" stroke-width="0.9" rx="1.3" />
<rect x="538.1" y="331.69" width="14.399999999999977" height="7.3" fill="none" stroke="#4a4a4a" stroke-width="0.9" rx="1.3" />
<rect x="554" y="331.69" width="14.75" height="7.3" fill="none" stroke="#4a4a4a" stroke-width="0.9" rx="1.3" />
<line x1="542.2" y1="331.69" x2="542.2" y2="338.99" stroke="#4a4a4a" stroke-width="0.9" />
<line x1="565.6" y1="331.69" x2="565.6" y2="338.99" stroke="#4a4a4a" stroke-width="0.9" />
<rect x="521.9" y="340.88" width="14.350000000000023" height="7.3" fill="none" stroke="#4a4a4a" stroke-width="0.9" rx="1.3" />
<rect x="538.1" y="340.88" width="14.399999999999977" height="7.3" fill="none" stroke="#4a4a4a" stroke-width="0.9" rx="1.3" />
<rect x="554" y="340.88" width="14.75" height="7.3" fill="none" stroke="#4a4a4a" stroke-width="0.9" rx="1.3" />
<line x1="542.2" y1="340.88" x2="542.2" y2="348.18" stroke="#4a4a4a" stroke-width="0.9" />
<line x1="565.6" y1="340.88" x2="565.6" y2="348.18" stroke="#4a4a4a" stroke-width="0.9" />
<rect x="521.9" y="350.07" width="14.350000000000023" height="7.3" fill="none" stroke="#4a4a4a" stroke-width="0.9" rx="1.3" />
<rect x="538.1" y="350.07" width="14.399999999999977" height="7.3" fill="none" stroke="#4a4a4a" stroke-width="0.9" rx="1.3" />
<rect x="554" y="350.07" width="14.75" height="7.3" fill="none" stroke="#4a4a4a" stroke-width="0.9" rx="1.3" />
<line x1="542.2" y1="350.07" x2="542.2" y2="357.37" stroke="#4a4a4a" stroke-width="0.9" />
<line x1="565.6" y1="350.07" x2="565.6" y2="357.37" stroke="#4a4a4a" stroke-width="0.9" />
<rect x="521.9" y="359.26" width="14.350000000000023" height="7.3" fill="none" stroke="#4a4a4a" stroke-width="0.9" rx="1.3" />
<rect x="538.1" y="359.26" width="14.399999999999977" height="7.3" fill="none" stroke="#4a4a4a" stroke-width="0.9" rx="1.3" />
<rect x="554" y="359.26" width="14.75" height="7.3" fill="none" stroke="#4a4a4a" stroke-width="0.9" rx="1.3" />
<line x1="542.2" y1="359.26" x2="542.2" y2="366.56" stroke="#4a4a4a" stroke-width="0.9" />
<line x1="565.6" y1="359.26" x2="565.6" y2="366.56" stroke="#4a4a4a" stroke-width="0.9" />
<rect x="521.9" y="368.45" width="14.350000000000023" height="7.3" fill="none" stroke="#4a4a4a" stroke-width="0.9" rx="1.3" />
<rect x="538.1" y="368.45" width="14.399999999999977" height="7.3" fill="none" stroke="#4a4a4a" stroke-width="0.9" rx="1.3" />
<rect x="554" y="368.45" width="14.75" height="7.3" fill="none" stroke="#4a4a4a" stroke-width="0.9" rx="1.3" />
<line x1="542.2" y1="368.45" x2="542.2" y2="375.75" stroke="#4a4a4a" stroke-width="0.9" />
<line x1="565.6" y1="368.45" x2="565.6" y2="375.75" stroke="#4a4a4a" stroke-width="0.9" />
<rect x="521.9" y="377.64" width="14.350000000000023" height="7.3" fill="none" stroke="#4a4a4a" stroke-width="0.9" rx="1.3" />
<rect x="538.1" y="377.64" width="14.399999999999977" height="7.3" fill="none" stroke="#4a4a4a" stroke-width="0.9" rx="1.3" />
<rect x="554" y="377.64" width="14.75" height="7.3" fill="none" stroke="#4a4a4a" stroke-width="0.9" rx="1.3" />
<line x1="542.2" y1="377.64" x2="542.2" y2="384.94" stroke="#4a4a4a" stroke-width="0.9" />
<line x1="565.6" y1="377.64" x2="565.6" y2="384.94" stroke="#4a4a4a" stroke-width="0.9" />
<rect x="521.9" y="386.83" width="14.350000000000023" height="7.3" fill="none" stroke="#4a4a4a" stroke-width="0.9" rx="1.3" />
<rect x="538.1" y="386.83" width="14.399999999999977" height="7.3" fill="none" stroke="#4a4a4a" stroke-width="0.9" rx="1.3" />
<rect x="554" y="386.83" width="14.75" height="7.3" fill="none" stroke="#4a4a4a" stroke-width="0.9" rx="1.3" />
<line x1="542.2" y1="386.83" x2="542.2" y2="394.13" stroke="#4a4a4a" stroke-width="0.9" />
<line x1="565.6" y1="386.83" x2="565.6" y2="394.13" stroke="#4a4a4a" stroke-width="0.9" />
<rect x="521.9" y="396.02" width="14.350000000000023" height="7.3" fill="none" stroke="#4a4a4a" stroke-width="0.9" rx="1.3" />
<rect x="538.1" y="396.02" width="14.399999999999977" height="7.3" fill="none" stroke="#4a4a4a" stroke-width="0.9" rx="1.3" />
<rect x="554" y="396.02" width="14.75" height="7.3" fill="none" stroke="#4a4a4a" stroke-width="0.9" rx="1.3" />
<line x1="542.2" y1="396.02" x2="542.2" y2="403.32" stroke="#4a4a4a" stroke-width="0.9" />
<line x1="565.6" y1="396.02" x2="565.6" y2="403.32" stroke="#4a4a4a" stroke-width="0.9" />
<rect x="521.9" y="405.21" width="14.350000000000023" height="7.3" fill="none" stroke="#4a4a4a" stroke-width="0.9" rx="1.3" />
<rect x="538.1" y="405.21" width="14.399999999999977" height="7.3" fill="none" stroke="#4a4a4a" stroke-width="0.9" rx="1.3" />
<rect x="554" y="405.21" width="14.75" height="7.3" fill="none" stroke="#4a4a4a" stroke-width="0.9" rx="1.3" />
<line x1="542.2" y1="405.21" x2="542.2" y2="412.51" stroke="#4a4a4a" stroke-width="0.9" />
<line x1="565.6" y1="405.21" x2="565.6" y2="412.51" stroke="#4a4a4a" stroke-width="0.9" />
<rect x="521.9" y="414.4" width="14.350000000000023" height="7.3" fill="none" stroke="#4a4a4a" stroke-width="0.9" rx="1.3" />
<rect x="538.1" y="414.4" width="14.399999999999977" height="7.3" fill="none" stroke="#4a4a4a" stroke-width="0.9" rx="1.3" />
<rect x="554" y="414.4" width="14.75" height="7.3" fill="none" stroke="#4a4a4a" stroke-width="0.9" rx="1.3" />
<line x1="542.2" y1="414.4" x2="542.2" y2="421.7" stroke="#4a4a4a" stroke-width="0.9" />
<line x1="565.6" y1="414.4" x2="565.6" y2="421.7" stroke="#4a4a4a" stroke-width="0.9" />
<rect x="521.9" y="423.59" width="14.350000000000023" height="7.3" fill="none" stroke="#4a4a4a" stroke-width="0.9" rx="1.3" />
<rect x="538.1" y="423.59" width="14.399999999999977" height="7.3" fill="none" stroke="#4a4a4a" stroke-width="0.9" rx="1.3" />
<rect x="554" y="423.59" width="14.75" height="7.3" fill="none" stroke="#4a4a4a" stroke-width="0.9" rx="1.3" />
<line x1="542.2" y1="423.59" x2="542.2" y2="430.89" stroke="#4a4a4a" stroke-width="0.9" />
<line x1="565.6" y1="423.59" x2="565.6" y2="430.89" stroke="#4a4a4a" stroke-width="0.9" />
<rect x="521.9" y="432.78" width="14.350000000000023" height="7.3" fill="none" stroke="#4a4a4a" stroke-width="0.9" rx="1.3" />
<rect x="538.1" y="432.78" width="14.399999999999977" height="7.3" fill="none" stroke="#4a4a4a" stroke-width="0.9" rx="1.3" />
<rect x="554" y="432.78" width="14.75" height="7.3" fill="none" stroke="#4a4a4a" stroke-width="0.9" rx="1.3" />
<line x1="542.2" y1="432.78" x2="542.2" y2="440.08" stroke="#4a4a4a" stroke-width="0.9" />
<line x1="565.6" y1="432.78" x2="565.6" y2="440.08" stroke="#4a4a4a" stroke-width="0.9" />
<rect x="521.9" y="441.97" width="14.350000000000023" height="7.3" fill="none" stroke="#4a4a4a" stroke-width="0.9" rx="1.3" />
<rect x="538.1" y="441.97" width="14.399999999999977" height="7.3" fill="none" stroke="#4a4a4a" stroke-width="0.9" rx="1.3" />
<rect x="554" y="441.97" width="14.75" height="7.3" fill="none" stroke="#4a4a4a" stroke-width="0.9" rx="1.3" />
<line x1="542.2" y1="441.97" x2="542.2" y2="449.27000000000004" stroke="#4a4a4a" stroke-width="0.9" />
<line x1="565.6" y1="441.97" x2="565.6" y2="449.27000000000004" stroke="#4a4a4a" stroke-width="0.9" />
<rect x="521.9" y="451.15999999999997" width="14.350000000000023" height="7.3" fill="none" stroke="#4a4a4a" stroke-width="0.9" rx="1.3" />
<rect x="538.1" y="451.15999999999997" width="14.399999999999977" height="7.3" fill="none" stroke="#4a4a4a" stroke-width="0.9" rx="1.3" />
<rect x="554" y="451.15999999999997" width="14.75" height="7.3" fill="none" stroke="#4a4a4a" stroke-width="0.9" rx="1.3" />
<line x1="542.2" y1="451.15999999999997" x2="542.2" y2="458.46" stroke="#4a4a4a" stroke-width="0.9" />
<line x1="565.6" y1="451.15999999999997" x2="565.6" y2="458.46" stroke="#4a4a4a" stroke-width="0.9" />
<rect x="521.9" y="460.35" width="14.350000000000023" height="7.3" fill="none" stroke="#4a4a4a" stroke-width="0.9" rx="1.3" />
<rect x="538.1" y="460.35" width="14.399999999999977" height="7.3" fill="none" stroke="#4a4a4a" stroke-width="0.9" rx="1.3" />
<rect x="554" y="460.35" width="14.75" height="7.3" fill="none" stroke="#4a4a4a" stroke-width="0.9" rx="1.3" />
<line x1="542.2" y1="460.35" x2="542.2" y2="467.65000000000003" stroke="#4a4a4a" stroke-width="0.9" />
<line x1="565.6" y1="460.35" x2="565.6" y2="467.65000000000003" stroke="#4a4a4a" stroke-width="0.9" />
<rect x="521.9" y="469.53999999999996" width="14.350000000000023" height="7.3" fill="none" stroke="#4a4a4a" stroke-width="0.9" rx="1.3" />
<rect x="538.1" y="469.53999999999996" width="14.399999999999977" height="7.3" fill="none" stroke="#4a4a4a" stroke-width="0.9" rx="1.3" />
<rect x="554" y="469.53999999999996" width="14.75" height="7.3" fill="none" stroke="#4a4a4a" stroke-width="0.9" rx="1.3" />
<line x1="542.2" y1="469.53999999999996" x2="542.2" y2="476.84" stroke="#4a4a4a" stroke-width="0.9" />
<line x1="565.6" y1="469.53999999999996" x2="565.6" y2="476.84" stroke="#4a4a4a" stroke-width="0.9" />
<rect x="521.9" y="478.73" width="14.350000000000023" height="7.3" fill="none" stroke="#4a4a4a" stroke-width="0.9" rx="1.3" />
<rect x="538.1" y="478.73" width="14.399999999999977" height="7.3" fill="none" stroke="#4a4a4a" stroke-width="0.9" rx="1.3" />
<rect x="554" y="478.73" width="14.75" height="7.3" fill="none" stroke="#4a4a4a" stroke-width="0.9" rx="1.3" />
<line x1="542.2" y1="478.73" x2="542.2" y2="486.03000000000003" stroke="#4a4a4a" stroke-width="0.9" />
<line x1="565.6" y1="478.73" x2="565.6" y2="486.03000000000003" stroke="#4a4a4a" stroke-width="0.9" />
<rect x="521.9" y="487.91999999999996" width="14.350000000000023" height="7.3" fill="none" stroke="#4a4a4a" stroke-width="0.9" rx="1.3" />
<rect x="538.1" y="487.91999999999996" width="14.399999999999977" height="7.3" fill="none" stroke="#4a4a4a" stroke-width="0.9" rx="1.3" />
<rect x="554" y="487.91999999999996" width="14.75" height="7.3" fill="none" stroke="#4a4a4a" stroke-width="0.9" rx="1.3" />
<line x1="542.2" y1="487.91999999999996" x2="542.2" y2="495.21999999999997" stroke="#4a4a4a" stroke-width="0.9" />
<line x1="565.6" y1="487.91999999999996" x2="565.6" y2="495.21999999999997" stroke="#4a4a4a" stroke-width="0.9" />
<rect x="521.9" y="497.11" width="14.350000000000023" height="7.3" fill="none" stroke="#4a4a4a" stroke-width="0.9" rx="1.3" />
<rect x="538.1" y="497.11" width="14.399999999999977" height="7.3" fill="none" stroke="#4a4a4a" stroke-width="0.9" rx="1.3" />
<rect x="554" y="497.11" width="14.75" height="7.3" fill="none" stroke="#4a4a4a" stroke-width="0.9" rx="1.3" />
<line x1="542.2" y1="497.11" x2="542.2" y2="504.41" stroke="#4a4a4a" stroke-width="0.9" />
<line x1="565.6" y1="497.11" x2="565.6" y2="504.41" stroke="#4a4a4a" stroke-width="0.9" />
<rect x="521.9" y="506.29999999999995" width="14.350000000000023" height="7.3" fill="none" stroke="#4a4a4a" stroke-width="0.9" rx="1.3" />
<rect x="538.1" y="506.29999999999995" width="14.399999999999977" height="7.3" fill="none" stroke="#4a4a4a" stroke-width="0.9" rx="1.3" />
<rect x="554" y="506.29999999999995" width="14.75" height="7.3" fill="none" stroke="#4a4a4a" stroke-width="0.9" rx="1.3" />
<line x1="542.2" y1="506.29999999999995" x2="542.2" y2="513.5999999999999" stroke="#4a4a4a" stroke-width="0.9" />
<line x1="565.6" y1="506.29999999999995" x2="565.6" y2="513.5999999999999" stroke="#4a4a4a" stroke-width="0.9" />
<line x1="514.2" y1="332" x2="513.2" y2="372" stroke="#222" stroke-width="0.9" />
<line x1="516" y1="518.8" x2="578.5" y2="518.8" stroke="#111" stroke-width="1.8" />
<path d="M513,526.5 L520,521.9 L570,521.9 L578,526.5 Z" stroke="#222" stroke-width="1.1" fill="#fff" />
<circle cx="520.5" cy="520.5" r="1.4" fill="#222"/><circle cx="568.5" cy="520.5" r="1.4" fill="#222"/>
<rect x="509.2" y="366.7" width="5.500000000000057" height="12.0" fill="#fff" stroke="#1e1e1e" stroke-width="1.1" rx="1.2" />
<line x1="509.2" y1="370.5" x2="514.7" y2="370.5" stroke="#333" stroke-width="0.9" />
<line x1="509.2" y1="374.5" x2="514.7" y2="374.5" stroke="#333" stroke-width="0.9" />
<rect x="509.4" y="500.6" width="5.600000000000023" height="15.600000000000023" fill="#fff" stroke="#1e1e1e" stroke-width="1.1" rx="1.2" />
<line x1="509.4" y1="505" x2="515" y2="505" stroke="#333" stroke-width="0.9" />
<line x1="509.4" y1="509.5" x2="515" y2="509.5" stroke="#333" stroke-width="0.9" />
<line x1="509.4" y1="513" x2="515" y2="513" stroke="#333" stroke-width="0.9" />
<circle cx="504.7" cy="360" r="8.9" fill="#141414"/>
<text x="0" y="0" font-family="Liberation Sans" font-size="13.8" font-weight="bold" fill="#fff" stroke="#fff" stroke-width="0.6" text-anchor="middle" transform="translate(504.7,364.968) scale(1.12,1)">M</text>
<circle cx="505.4" cy="494.3" r="8.9" fill="#141414"/>
<text x="0" y="0" font-family="Liberation Sans" font-size="14.5" font-weight="bold" fill="#fff" stroke="#fff" stroke-width="0.6" text-anchor="middle" transform="translate(505.4,499.52000000000004) scale(1.0,1)">N</text>
<circle cx="544.8" cy="419" r="8.8" fill="#141414"/>
<ellipse cx="544.8" cy="419" rx="5.4" ry="5.8" fill="#fff"/>
<ellipse cx="544.8" cy="419" rx="2.9" ry="3.5" fill="#141414"/>
<line x1="494.5" y1="372" x2="506" y2="372" stroke="#444" stroke-width="0.8" />
<line x1="498.4" y1="372.3" x2="498.4" y2="431" stroke="#333" stroke-width="0.7" />
<line x1="498.4" y1="448" x2="498.4" y2="506.8" stroke="#333" stroke-width="0.7" />
<polygon points="498.4,372.4 497.04999999999995,375.4 499.75,375.4" fill="#1e1e1e"/>
<polygon points="498.4,506.8 497.04999999999995,503.8 499.75,503.8" fill="#1e1e1e"/>
<text x="0" y="0" font-family="Liberation Serif" font-size="11" font-weight="normal" fill="#444" text-anchor="middle" dominant-baseline="central" transform="translate(500,439.2) rotate(-90) scale(1.0,1)">E</text>
<line x1="494" y1="506.9" x2="505" y2="506.9" stroke="#444" stroke-width="0.8" />
<text x="0" y="0" font-family="Liberation Serif" font-size="11" font-weight="normal" fill="#444" text-anchor="middle" dominant-baseline="central" transform="translate(499,517.5) rotate(-90) scale(1.0,1)">D</text>
<line x1="492" y1="526.6" x2="510" y2="526.6" stroke="#555" stroke-width="0.8" />
<line x1="498.1" y1="526.6" x2="498.1" y2="533" stroke="#333" stroke-width="0.7" />
<polygon points="498.1,526.8 496.84000000000003,529.5999999999999 499.36,529.5999999999999" fill="#1e1e1e"/>
<line x1="498.1" y1="500" x2="498.1" y2="506.8" stroke="#333" stroke-width="0.7" />
</g>
<g fill="none">
<line x1="176.3" y1="582.7" x2="176.3" y2="654.2" stroke="#111" stroke-width="1.4" />
<line x1="176.3" y1="582.7" x2="326.4" y2="582.7" stroke="#8a8a8a" stroke-width="1.1" />
<line x1="176.3" y1="591" x2="326.4" y2="591" stroke="#8a8a8a" stroke-width="1.5" />
<line x1="176.3" y1="644.8" x2="326.4" y2="644.8" stroke="#666" stroke-width="1.3" />
<line x1="176.3" y1="654" x2="326.4" y2="654" stroke="#7a7a7a" stroke-width="1.2" />
<polygon points="183,582.7 180.4,581.5300000000001 180.4,583.87" fill="#333"/>
<polygon points="176.3,591 175.175,588.5 177.425,588.5" fill="#111"/>
<polygon points="176.3,644.8 175.175,647.3 177.425,647.3" fill="#111"/>
<polygon points="176.3,644.8 175.175,642.3 177.425,642.3" fill="#111"/>
<rect x="205.3" y="579.5" width="4.3" height="3" fill="none" stroke="#222" stroke-width="1.1" rx="0" />
<rect x="211.6" y="579.5" width="4.3" height="3" fill="none" stroke="#222" stroke-width="1.1" rx="0" />
<line x1="205" y1="654.8" x2="209.5" y2="654.8" stroke="#444" stroke-width="1.2" />
<line x1="211.5" y1="654.8" x2="216" y2="654.8" stroke="#444" stroke-width="1.2" />
<rect x="326.4" y="582.6" width="52.1" height="2.6" fill="#cdcdcd" stroke="none" stroke-width="1" rx="0" />
<line x1="326.4" y1="582.6" x2="378.5" y2="582.6" stroke="#333" stroke-width="0.9" />
<line x1="326.4" y1="585.3" x2="378.5" y2="585.3" stroke="#444" stroke-width="0.8" />
<line x1="326.4" y1="590.8" x2="378.5" y2="590.8" stroke="#8a8a8a" stroke-width="1.4" />
<line x1="326.4" y1="645.2" x2="378.5" y2="645.2" stroke="#777" stroke-width="1.3" />
<line x1="326.4" y1="655.3" x2="362.4" y2="655.3" stroke="#333" stroke-width="1.1" />
<line x1="362.4" y1="655.3" x2="378.5" y2="651.5" stroke="#444" stroke-width="1" />
<line x1="326.3" y1="582.7" x2="326.3" y2="655.3" stroke="#222" stroke-width="1.2" />
<line x1="329.6" y1="585" x2="329.6" y2="655" stroke="#999" stroke-width="1.3" />
<line x1="359.5" y1="585" x2="359.5" y2="655" stroke="#999" stroke-width="1.3" />
<line x1="362.3" y1="585" x2="362.3" y2="655" stroke="#333" stroke-width="0.9" />
<line x1="378.5" y1="582.7" x2="378.5" y2="651.5" stroke="#333" stroke-width="1" />
<polygon points="378.5,590.6 377.465,588.3000000000001 379.535,588.3000000000001" fill="#1e1e1e"/>
<polygon points="378.5,645.2 377.465,642.9000000000001 379.535,642.9000000000001" fill="#1e1e1e"/>
<rect x="336.9" y="579" width="9.7" height="3.5" fill="#cfcfcf" stroke="#222" stroke-width="0.8" rx="0" />
<rect x="346.6" y="574.1" width="19.2" height="8" fill="#fff" stroke="#111" stroke-width="1.1" rx="1.5" />
<line x1="350" y1="574.1" x2="350" y2="582.1" stroke="#333" stroke-width="0.8" />
<line x1="356" y1="574.1" x2="356" y2="582.1" stroke="#333" stroke-width="0.8" />
<line x1="357.5" y1="574.1" x2="357.5" y2="582.1" stroke="#333" stroke-width="0.8" />
<line x1="363.1" y1="574.1" x2="363.1" y2="582.1" stroke="#333" stroke-width="0.8" />
<circle cx="342.9" cy="568.9" r="8.9" fill="#141414"/>
<text x="0" y="0" font-family="Liberation Sans" font-size="13.8" font-weight="bold" fill="#fff" stroke="#fff" stroke-width="0.6" text-anchor="middle" transform="translate(342.9,573.8679999999999) scale(1.12,1)">M</text>
<line x1="356" y1="563" x2="356" y2="570.5" stroke="#333" stroke-width="0.8" />
<line x1="356" y1="566.8" x2="361" y2="566.8" stroke="#333" stroke-width="0.8" />
<polygon points="356.2,566.8 358.8,565.63 358.8,567.9699999999999" fill="#1e1e1e"/>
<text x="0" y="0" font-family="Liberation Serif" font-size="10" font-weight="bold" fill="#1e1e1e" stroke="#1e1e1e" stroke-width="0.45" text-anchor="middle" dominant-baseline="central" transform="translate(367,566.8) scale(1.0,1)">F</text>
<line x1="373" y1="566.8" x2="378" y2="566.8" stroke="#333" stroke-width="0.8" />
<polygon points="378,566.8 375.4,565.63 375.4,567.9699999999999" fill="#1e1e1e"/>
<line x1="378.1" y1="561" x2="378.1" y2="580" stroke="#333" stroke-width="0.8" />
<line x1="369" y1="574.7" x2="408" y2="574.7" stroke="#444" stroke-width="0.8" />
<line x1="380" y1="583" x2="397" y2="583" stroke="#444" stroke-width="0.8" />
<line x1="380" y1="655.2" x2="408" y2="655.2" stroke="#444" stroke-width="0.8" />
<line x1="390.4" y1="583.2" x2="390.4" y2="612" stroke="#333" stroke-width="0.7" />
<line x1="390.4" y1="626" x2="390.4" y2="655" stroke="#333" stroke-width="0.7" />
<polygon points="390.4,583.3 389.04999999999995,586.3 391.75,586.3" fill="#1e1e1e"/>
<polygon points="390.4,655 389.04999999999995,652 391.75,652" fill="#1e1e1e"/>
<text x="0" y="0" font-family="Liberation Serif" font-size="10" font-weight="bold" fill="#1e1e1e" stroke="#1e1e1e" stroke-width="0.45" text-anchor="middle" dominant-baseline="central" transform="translate(390.6,619) rotate(-90) scale(1.0,1)">G</text>
<line x1="402.1" y1="575" x2="402.1" y2="607.5" stroke="#333" stroke-width="0.7" />
<line x1="402.1" y1="621.5" x2="402.1" y2="655" stroke="#333" stroke-width="0.7" />
<polygon points="402.1,575 400.75,578 403.45000000000005,578" fill="#1e1e1e"/>
<polygon points="402.1,655 400.75,652 403.45000000000005,652" fill="#1e1e1e"/>
<text x="0" y="0" font-family="Liberation Serif" font-size="10" font-weight="bold" fill="#1e1e1e" stroke="#1e1e1e" stroke-width="0.45" text-anchor="middle" dominant-baseline="central" transform="translate(402.3,614.5) rotate(-90) scale(1.0,1)">H</text>
</g>
<g fill="none">
<line x1="453.7" y1="588.7" x2="453.7" y2="645" stroke="#555" stroke-width="1.2" />
<line x1="453.7" y1="588.7" x2="559.5" y2="588.7" stroke="#8a8a8a" stroke-width="1.1" />
<line x1="453.7" y1="594.3" x2="559.5" y2="594.3" stroke="#666" stroke-width="1.2" />
<line x1="453.7" y1="638.7" x2="559.5" y2="638.7" stroke="#777" stroke-width="1.3" />
<line x1="453.7" y1="645" x2="559.5" y2="645" stroke="#777" stroke-width="1.2" />
<polygon points="453.7,594.3 452.66499999999996,592.0 454.735,592.0" fill="#111"/>
<polygon points="453.7,638.7 452.66499999999996,641.0 454.735,641.0" fill="#111"/>
<polygon points="453.7,638.7 452.66499999999996,636.4000000000001 454.735,636.4000000000001" fill="#111"/>
<rect x="475" y="586.2" width="3" height="2.2" fill="none" stroke="#555" stroke-width="0.7" rx="0" />
<rect x="479.5" y="586.2" width="3" height="2.2" fill="none" stroke="#555" stroke-width="0.7" rx="0" />
<rect x="475" y="645.8" width="3" height="2" fill="none" stroke="#666" stroke-width="0.7" rx="0" />
<rect x="479.5" y="645.8" width="3" height="2" fill="none" stroke="#666" stroke-width="0.7" rx="0" />
<line x1="440" y1="586.5" x2="475" y2="586.5" stroke="#333" stroke-width="0.8" />
<line x1="440" y1="646.8" x2="475" y2="646.8" stroke="#333" stroke-width="0.8" />
<line x1="443.5" y1="587" x2="443.5" y2="607" stroke="#333" stroke-width="0.8" />
<line x1="443.5" y1="626" x2="443.5" y2="646.5" stroke="#333" stroke-width="0.8" />
<polygon points="443.5,586.8 442.15,589.8 444.85,589.8" fill="#1e1e1e"/>
<polygon points="443.5,646.6 442.15,643.6 444.85,643.6" fill="#1e1e1e"/>
<text x="0" y="0" font-family="Liberation Serif" font-size="9" font-weight="bold" fill="#1e1e1e" stroke="#1e1e1e" stroke-width="0.3" text-anchor="middle" dominant-baseline="central" transform="translate(443.8,617.3) rotate(-90) scale(1.0,1)">430</text>
<rect x="559.5" y="588.1" width="46.7" height="1.9" fill="#cdcdcd" stroke="none" stroke-width="1" rx="0" />
<line x1="559.5" y1="588.1" x2="606.2" y2="588.1" stroke="#333" stroke-width="0.9" />
<line x1="559.5" y1="590" x2="606.2" y2="590" stroke="#555" stroke-width="0.7" />
<line x1="559.5" y1="594.3" x2="606.2" y2="594.3" stroke="#666" stroke-width="1.1" />
<line x1="559.5" y1="638.7" x2="606.2" y2="638.7" stroke="#777" stroke-width="1.2" />
<line x1="559.5" y1="645.7" x2="595" y2="645.7" stroke="#333" stroke-width="1.1" />
<line x1="595" y1="645.7" x2="606.2" y2="643.5" stroke="#444" stroke-width="1" />
<line x1="559.9" y1="588.1" x2="559.9" y2="645.7" stroke="#222" stroke-width="1.2" />
<line x1="562.4" y1="590" x2="562.4" y2="645.7" stroke="#999" stroke-width="1.2" />
<line x1="593.2" y1="590" x2="593.2" y2="645.7" stroke="#999" stroke-width="1.2" />
<line x1="595.4" y1="590" x2="595.4" y2="645.7" stroke="#333" stroke-width="0.9" />
<line x1="606.2" y1="588.1" x2="606.2" y2="643.5" stroke="#333" stroke-width="1" />
<polygon points="606.2,594.3 605.21,592.0999999999999 607.19,592.0999999999999" fill="#1e1e1e"/>
<polygon points="606.2,638.7 605.21,636.5 607.19,636.5" fill="#1e1e1e"/>
<rect x="569.6" y="585.9" width="16.9" height="2.5" fill="#cfcfcf" stroke="#222" stroke-width="0.8" rx="0" />
<rect x="584.8" y="582.5" width="11.8" height="5.6" fill="#fff" stroke="#111" stroke-width="1" rx="1.2" />
<line x1="588.5" y1="582.5" x2="588.5" y2="588" stroke="#333" stroke-width="0.8" />
<line x1="591" y1="582.5" x2="591" y2="588" stroke="#333" stroke-width="0.8" />
<circle cx="576.9" cy="576.9" r="9" fill="#141414"/>
<text x="0" y="0" font-family="Liberation Sans" font-size="13.8" font-weight="bold" fill="#fff" stroke="#fff" stroke-width="0.6" text-anchor="middle" transform="translate(576.9,581.8679999999999) scale(1.12,1)">M</text>
<line x1="588.7" y1="572" x2="588.7" y2="580" stroke="#333" stroke-width="0.7" />
<line x1="606.2" y1="572" x2="606.2" y2="588" stroke="#333" stroke-width="0.7" />
<line x1="589" y1="575" x2="606" y2="575" stroke="#333" stroke-width="0.7" />
<polygon points="589,575 591.6,573.83 591.6,576.17" fill="#1e1e1e"/>
<polygon points="606,575 603.4,573.83 603.4,576.17" fill="#1e1e1e"/>
<text x="0" y="0" font-family="Liberation Serif" font-size="11" font-weight="normal" fill="#444" text-anchor="middle" dominant-baseline="central" transform="translate(614,574.4) scale(1.0,1)">F</text>
<line x1="598.3" y1="582.5" x2="627.5" y2="582.5" stroke="#555" stroke-width="0.8" />
<line x1="609" y1="588.1" x2="618.6" y2="588.1" stroke="#555" stroke-width="0.8" />
<line x1="606.2" y1="645.8" x2="632" y2="645.8" stroke="#555" stroke-width="0.8" />
<line x1="615.7" y1="588.3" x2="615.7" y2="609" stroke="#333" stroke-width="0.7" />
<line x1="615.7" y1="624" x2="615.7" y2="645.5" stroke="#333" stroke-width="0.7" />
<polygon points="615.7,588.4 614.35,591.4 617.0500000000001,591.4" fill="#1e1e1e"/>
<polygon points="615.7,645.5 614.35,642.5 617.0500000000001,642.5" fill="#1e1e1e"/>
<text x="0" y="0" font-family="Liberation Serif" font-size="11" font-weight="normal" fill="#444" text-anchor="middle" dominant-baseline="central" transform="translate(615.9,616.5) rotate(-90) scale(1.0,1)">G</text>
<line x1="625.3" y1="582.7" x2="625.3" y2="606" stroke="#333" stroke-width="0.7" />
<line x1="625.3" y1="622" x2="625.3" y2="645.5" stroke="#333" stroke-width="0.7" />
<polygon points="625.3,582.8 623.9499999999999,585.8 626.65,585.8" fill="#1e1e1e"/>
<polygon points="625.3,645.5 623.9499999999999,642.5 626.65,642.5" fill="#1e1e1e"/>
<text x="0" y="0" font-family="Liberation Serif" font-size="11" font-weight="normal" fill="#444" text-anchor="middle" dominant-baseline="central" transform="translate(625.5,614.2) rotate(-90) scale(1.0,1)">H</text>
</g>
</svg>
</body></html>
